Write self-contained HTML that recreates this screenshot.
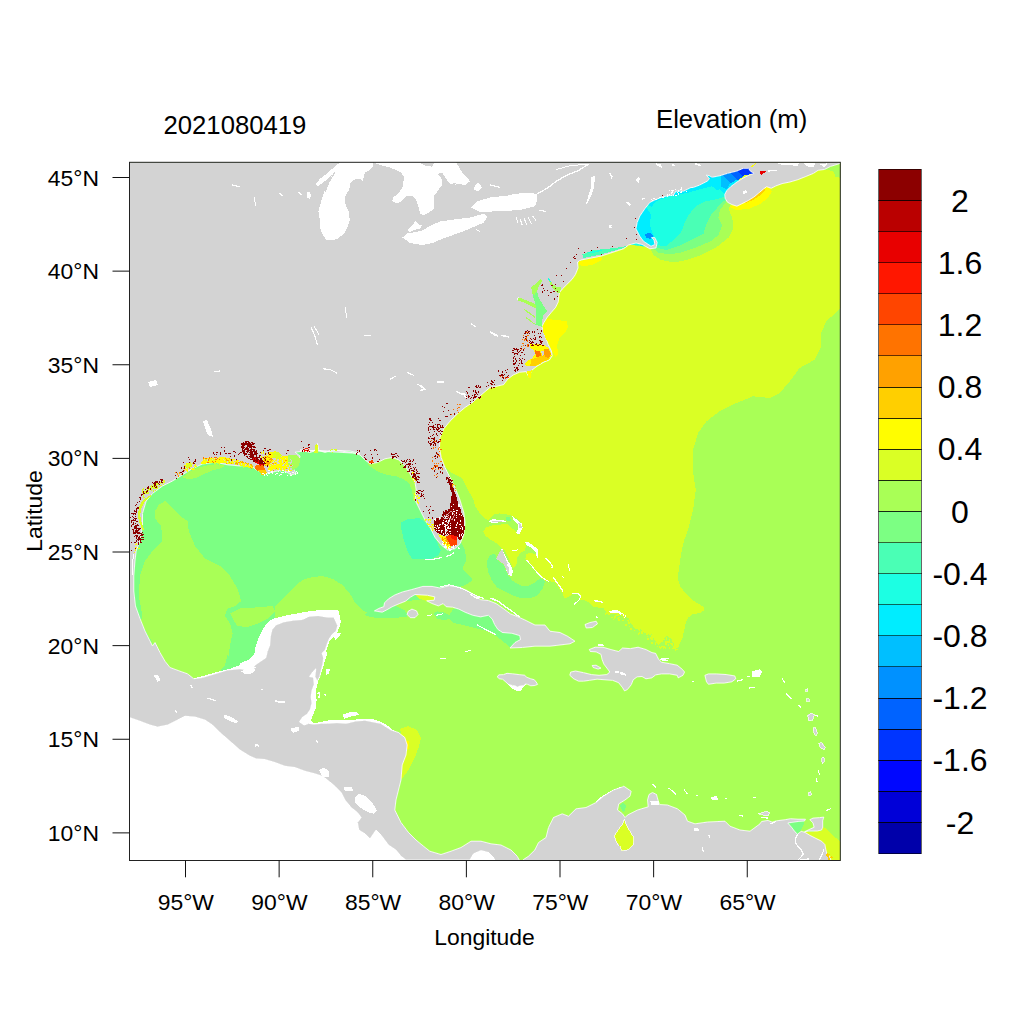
<!DOCTYPE html>
<html><head><meta charset="utf-8"><title>Elevation</title>
<style>html,body{margin:0;padding:0;background:#fff}svg{display:block}text{font-family:"Liberation Sans",sans-serif;fill:#000}</style></head><body>
<svg width="1024" height="1024" viewBox="0 0 1024 1024">
<rect width="1024" height="1024" fill="#fff"/>
<defs><clipPath id="c"><rect x="129.5" y="162.3" width="710.8" height="698.2"/></clipPath></defs>
<g clip-path="url(#c)" shape-rendering="crispEdges">
<path d="M120.0,150.0L850.0,150.0L850.0,870.0L120.0,870.0Z" fill="#a9ff56"/>
<path d="M845.0,150.0L845.0,306.0L842.7,306.6L838.7,309.9L826.1,321.6L821.1,333.2L821.1,346.5L814.4,359.8L799.5,368.1L791.2,379.7L779.6,393.0L769.6,398.0L753.0,396.3L736.4,403.0L719.7,411.3L706.5,421.3L698.1,432.9L693.2,449.5L692.5,469.4L695.8,489.4L693.2,509.3L688.2,529.2L684.3,540.0L681.6,550.9L679.6,564.6L677.5,578.3L680.2,586.5L685.7,593.3L692.5,600.2L699.4,604.3L704.2,607.7L704.6,610.4L699.4,613.1L692.5,614.5L687.8,617.9L685.7,623.4L684.3,630.2L682.3,638.4L679.6,643.9L677.5,648.0L672.0,649.4L674.8,642.5L670.7,638.4L666.6,635.7L663.8,638.4L658.4,645.3L654.3,639.8L651.5,634.3L644.7,633.0L640.6,628.9L635.1,628.9L631.0,623.4L628.3,617.9L622.8,616.6L617.3,613.8L607.8,614.5L603.7,608.4L601.3,608.0L593.1,606.6L588.9,602.5L583.5,599.8L579.4,600.5L580.7,595.7L578.0,593.7L572.5,593.0L571.2,595.7L564.3,598.4L563.0,594.3L558.9,587.5L554.8,582.0L550.7,581.4L545.2,580.7L539.7,576.6L534.3,569.7L528.8,562.9L525.4,558.8L526.1,554.7L530.2,552.6L534.9,554.0L537.0,554.7L537.0,550.6L531.5,547.9L526.1,545.1L524.7,542.4L519.2,536.2L518.5,534.9L522.6,527.3L521.3,522.6L515.8,517.8L509.6,514.8L499.4,513.4L493.2,514.8L487.8,520.5L480.9,515.0L475.5,506.8L473.4,500.0L462.0,478.0L456.0,475.0L450.0,472.0L432.0,450.0L430.0,425.0L450.0,395.0L470.0,385.0L500.0,365.0L525.0,345.0L535.0,300.0L560.0,270.0L570.0,240.0L600.0,235.0L630.0,225.0L640.0,200.0L680.0,180.0L720.0,160.0L760.0,150.0Z" fill="#daff25"/>
<path d="M483.0,531.4L486.4,527.3L493.2,525.3L506.9,523.9L511.0,527.3L516.5,532.1L519.2,536.2L524.7,542.4L526.1,546.5L524.7,550.6L520.6,552.6L517.2,557.4L516.5,564.3L513.8,568.4L511.0,564.3L508.3,557.4L504.9,550.6L501.4,547.9L497.3,543.8L490.5,539.6L485.0,535.5Z" fill="#daff25"/>
<path d="M505.8,517.1L510.3,517.5L510.7,520.5L506.6,520.5Z" fill="#7cff83"/>
<path d="M840.8,160.9L840.8,177.8L835.3,176.6L833.8,171.9L827.5,169.5L822.8,170.0L830.6,165.6Z" fill="#a9ff56"/>
<path d="M649.8,247.5L653.5,255.0L661.0,260.0L673.5,262.5L686.0,260.0L701.0,255.0L716.0,247.5L728.5,237.5L733.5,227.5L732.2,217.5L728.5,208.8L731.0,203.8L728.5,195.0L716.0,172.5L686.0,180.0L656.0,190.0L636.0,205.0L628.5,225.0L631.0,245.0Z" fill="#a9ff56"/>
<path d="M652.2,248.0L658.5,252.5L668.5,254.5L681.0,252.5L696.0,247.5L711.0,241.2L718.5,235.0L722.2,225.0L718.5,217.5L719.8,210.0L724.8,203.8L727.2,200.0L728.5,195.0L716.0,172.5L686.0,180.0L656.0,190.0L636.0,205.0L628.5,225.0L631.0,245.0Z" fill="#7cff83"/>
<path d="M654.8,247.0L666.0,250.0L678.5,246.2L691.0,240.0L703.5,233.8L706.0,225.0L711.0,215.0L718.5,206.2L723.5,201.2L727.2,198.8L728.5,195.0L716.0,172.5L686.0,180.0L656.0,190.0L636.0,205.0L628.5,225.0L631.0,245.0Z" fill="#4affb5"/>
<path d="M656.0,245.0L666.0,246.2L673.5,240.0L681.0,232.5L684.8,222.5L688.5,215.0L696.0,206.2L706.0,201.2L718.5,198.8L726.0,196.2L728.5,195.0L716.0,172.5L686.0,180.0L656.0,190.0L636.0,205.0L628.5,225.0L631.0,245.0Z" fill="#1cffe3"/>
<path d="M646.0,206.2L651.0,215.0L649.8,225.0L652.2,232.5L656.0,240.0L657.2,246.2L641.0,246.2L631.0,232.5L633.5,212.5L641.0,202.5Z" fill="#00edff"/>
<path d="M644.8,233.8L651.0,233.0L653.5,236.2L651.0,238.8L646.0,238.0Z" fill="#0091ff"/>
<path d="M704.1,171.9L730.6,171.9L740.0,181.2L727.5,198.4L723.6,193.0L711.9,181.2Z" fill="#00edff"/>
<path d="M706.0,175.0L721.0,175.0L728.5,187.5L716.0,190.0L708.5,182.5Z" fill="#00edff"/>
<path d="M710.3,176.6L721.2,173.4L732.2,179.7L726.7,189.1L715.0,183.6Z" fill="#00bfff"/>
<path d="M720.5,173.4L729.8,171.1L740.0,177.3L730.9,183.6Z" fill="#0091ff"/>
<path d="M729.1,171.6L736.9,169.1L744.7,175.0L737.7,180.5Z" fill="#0063ff"/>
<path d="M736.1,169.5L743.9,166.9L750.2,168.4L754.1,173.4L748.6,174.7L742.3,175.8Z" fill="#0035ff"/>
<path d="M729.8,207.0L736.9,210.2L749.4,208.6L760.3,203.9L768.1,197.7L772.0,191.4L769.7,187.5L765.0,186.7L736.9,201.6Z" fill="#fffd00"/>
<path d="M743.1,203.9L752.5,200.3L761.1,194.5L765.8,189.1L763.4,188.6L750.2,198.1Z" fill="#ffcf00"/>
<path d="M120.0,440.0L430.0,440.0L436.0,480.0L445.0,535.0L460.0,540.0L465.0,550.0L466.2,560.0L462.5,568.8L470.0,576.2L472.5,580.0L467.5,583.8L460.0,587.0L440.0,597.0L400.0,602.0L385.0,607.0L376.0,611.0L372.5,616.2L362.5,610.0L355.0,602.5L350.0,593.8L342.5,585.0L332.5,578.8L322.5,576.2L310.0,577.0L300.0,578.8L317.5,575.5L302.5,579.8L290.0,591.0L275.0,606.0L275.0,625.0L262.0,650.0L250.0,668.0L222.0,674.0L200.0,682.0L170.0,672.0L150.0,640.0L130.0,600.0L120.0,560.0Z" fill="#7cff83"/>
<path d="M155.0,511.0L158.8,504.8L165.0,501.0L172.5,508.5L180.0,516.0L187.5,521.0L188.8,531.0L195.0,546.0L205.0,558.5L220.0,566.0L230.0,576.0L237.5,588.5L241.2,601.0L235.0,606.0L227.5,608.5L225.0,616.0L230.0,623.5L232.5,633.5L230.0,646.0L227.5,662.0L227.5,655.0L225.0,665.0L220.0,671.2L202.5,683.8L180.0,678.8L165.0,668.8L155.0,647.5L142.5,625.0L137.5,631.0L142.5,616.0L138.8,596.0L140.0,576.0L145.0,561.0L152.5,551.0L162.5,541.0L161.2,526.0L155.0,518.5Z" fill="#a9ff56"/>
<path d="M230.0,613.5L240.0,608.5L260.0,607.2L272.5,606.0L275.0,611.0L267.5,618.5L257.5,623.5L247.5,627.2L237.5,626.0L232.5,618.5Z" fill="#a9ff56"/>
<path d="M367.3,464.0L372.4,468.1L378.7,471.9L387.6,475.1L396.5,476.3L404.1,479.5L409.2,483.3L411.7,489.7L413.0,496.0L413.4,501.1L415.5,497.0L420.0,495.0L417.5,480.0L410.0,470.0L400.0,457.5L385.0,455.0L375.0,456.2Z" fill="#a9ff56"/>
<path d="M401.3,522.5L407.6,519.3L419.0,518.0L425.4,522.5L431.7,531.4L436.8,541.5L440.6,550.4L438.1,555.5L430.5,559.3L412.7,559.3L407.6,551.7L403.8,540.3L401.3,528.8Z" fill="#4affb5"/>
<path d="M365.0,613.8L374.4,609.8L382.2,610.9L388.4,608.3L392.3,605.9L397.8,606.7L404.1,609.8L407.2,614.5L406.4,616.9L396.2,617.7L380.6,618.4L369.7,616.9L365.0,615.3Z" fill="#7cff83"/>
<path d="M433.8,613.8L436.9,611.4L443.1,612.2L449.4,615.3L452.5,609.8L457.2,607.5L465.0,610.9L472.8,614.1L480.6,615.6L488.4,614.1L493.1,616.9L496.2,623.9L499.4,628.6L503.3,631.2L511.9,632.0L521.2,634.8L522.0,639.8L515.0,643.8L509.5,647.3L505.6,643.4L497.8,637.2L490.0,631.7L480.6,629.4L471.2,627.0L461.9,624.7L454.1,623.1L449.4,619.2L443.1,620.0L436.9,618.4Z" fill="#7cff83"/>
<path d="M413.4,593.4L427.5,594.2L435.3,596.2L434.7,600.6L425.9,600.9L419.7,598.8Z" fill="#daff25"/>
<path d="M487.1,560.2L490.5,554.7L495.3,554.0L497.3,560.2L503.5,564.9L506.2,571.1L508.3,575.9L512.4,580.7L520.6,585.5L528.8,585.5L535.6,582.0L540.4,577.9L545.2,581.4L542.5,588.9L537.0,595.7L530.2,598.4L522.0,598.4L513.8,595.7L505.5,591.6L497.3,587.5L491.9,580.7L488.5,572.5L487.1,565.6Z" fill="#7cff83"/>
<path d="M399.8,728.8L408.5,726.2L417.2,730.0L421.0,737.5L418.5,747.5L414.8,757.5L408.5,770.0L401.0,780.0L398.5,780.0L398.5,765.0L403.5,755.0L404.8,745.0L402.2,737.5Z" fill="#daff25"/>
<path d="M406.0,741.2L408.8,741.2L408.8,748.8L406.5,748.8Z" fill="#fffd00"/>
<path d="M805.0,832.4L813.0,831.6L822.2,830.5L823.3,826.7L828.1,830.5L833.5,835.9L841.5,842.8L841.5,862.7L831.3,862.7L830.2,856.8L827.0,854.1L825.9,849.8L824.9,844.5L821.6,841.2L815.2,838.0L809.8,835.3Z" fill="#daff25"/>
<path d="M787.3,822.8L798.0,821.5L804.1,821.1L803.6,825.1L800.9,830.5L797.5,834.6L794.6,831.8L791.3,827.5Z" fill="#7cff83"/>
<path d="M646.9,204.5L652.7,200.4L658.6,198.7L665.6,195.2L670.3,192.8L675.0,188.7L682.0,188.1L687.9,185.8L693.8,186.4L699.6,184.0L705.5,181.1L711.3,178.2L720.7,174.1L720.7,188.1L711.3,186.4L699.6,189.3L687.9,192.8L676.2,195.2L665.6,197.5L656.3,201.0L651.6,206.9Z" fill="#00edff"/>
<path d="M642.8,241.4L656.3,242.0L657.4,245.6L652.7,247.9L646.9,247.0L642.2,244.4Z" fill="#00edff"/>
<path d="M519.8,861.0L494.8,861.0L494.8,860.0L493.5,857.5L488.5,852.5L481.0,850.5L473.5,853.8L469.8,860.0L406.0,860.0L401.0,856.2L396.0,850.0L388.5,845.0L381.0,835.0L376.0,830.0L370.0,838.8L365.0,833.8L358.8,830.0L357.5,822.5L361.2,817.5L357.5,812.5L351.2,807.5L345.0,800.0L341.2,792.5L335.0,786.2L327.5,780.0L322.5,776.2L315.0,773.8L305.0,771.2L295.0,767.5L285.0,766.2L275.0,762.5L265.0,759.5L256.2,758.8L250.0,756.2L240.0,750.0L230.0,741.2L220.0,732.5L212.5,725.0L205.0,720.0L195.0,717.0L185.0,716.2L177.5,720.0L167.5,725.0L157.5,727.0L150.0,725.0L140.0,721.2L129.5,717.5L120.0,716.2L120.0,870.0L521.0,870.0Z" fill="#ffffff"/>
<path d="M192.5,678.8L202.5,676.2L220.0,671.2L230.0,668.8L240.0,665.0L240.0,663.3L247.8,660.2L254.1,654.7L255.6,646.9L258.0,639.1L261.9,631.2L266.6,623.4L272.8,618.8L282.2,616.4L293.1,614.1L302.5,612.5L313.4,610.6L325.9,610.2L338.4,610.2L340.0,617.2L340.8,621.9L339.2,628.1L336.9,632.8L340.8,632.8L339.2,636.7L335.3,639.8L333.8,636.2L329.8,640.6L327.5,646.9L325.9,651.6L327.5,653.9L325.2,659.4L323.6,665.6L321.2,673.4L318.1,681.2L316.6,687.5L315.8,693.8L316.6,700.0L315.8,707.8L313.4,714.1L311.1,720.3L313.4,723.4L321.2,721.9L329.1,720.3L336.9,720.3L344.7,719.5L355.6,719.5L365.0,718.8L374.4,719.5L380.6,721.9L386.9,725.0L392.3,729.7L396.2,732.0L400.0,733.6L400.0,740.6L294.7,740.6L294.7,678.1L240.0,678.1L220.0,685.0L192.5,682.5Z" fill="#ffffff"/>
<path d="M342.3,714.8L349.4,712.5L356.4,711.7L359.5,714.8L349.4,716.9L344.7,718.8Z" fill="#ffffff"/>
<path d="M325.9,669.5L329.8,668.8L329.1,673.4L326.2,674.7Z" fill="#ffffff"/>
<path d="M317.7,693.8L319.7,692.2L318.9,697.7" fill="none" stroke="#ffffff" stroke-width="1.2"/>
<path d="M324.4,693.8L325.9,695.6" fill="none" stroke="#ffffff" stroke-width="1"/>
<path d="M590.0,807.3L594.7,803.4L600.5,797.2L611.1,790.9L619.3,787.3L624.0,786.2L625.2,788.8L613.4,793.4L601.7,801.6L590.0,811.0Z" fill="#ffffff"/>
<path d="M120.0,150.0L850.0,150.0L840.8,162.5L839.2,163.8L830.6,166.4L824.4,169.5L818.1,170.3L813.4,173.4L805.6,176.6L797.8,179.7L790.0,182.0L782.2,183.6L775.9,185.9L771.2,188.3L766.6,186.7L763.4,189.1L758.8,193.0L754.1,196.9L747.8,200.8L741.6,203.9L736.9,206.2L732.2,204.7L727.5,202.3L725.2,198.4L724.7,194.5L726.7,190.6L730.6,186.7L736.9,182.0L743.1,178.1L749.4,175.0L754.1,173.4L750.2,171.1L748.6,168.4L743.1,168.4L736.9,171.1L727.5,173.4L719.7,175.8L711.9,177.3L709.5,175.8L706.4,175.0L709.5,178.9L707.2,181.2L699.4,185.2L693.1,187.5L691.0,187.5L683.5,191.2L676.0,191.2L673.5,195.0L666.0,196.2L661.0,197.5L654.8,200.0L649.8,202.5L644.8,208.8L639.8,216.2L637.2,222.5L636.0,228.8L639.8,236.2L643.5,241.2L651.0,246.2L654.8,244.5L654.0,240.0L651.5,237.5L654.8,237.5L657.2,242.5L656.0,248.0L649.8,248.8L642.2,244.5L636.0,243.0L628.5,245.0L626.0,247.0L623.5,248.8L601.0,256.2L581.0,260.0L577.2,262.5L577.5,262.3L578.1,267.8L575.4,274.6L572.0,279.4L566.5,284.8L562.4,288.9L559.7,292.4L559.0,295.1L558.3,301.9L555.6,307.4L551.5,312.2L547.4,317.0L544.0,322.4L541.9,326.5L544.7,334.7L548.1,344.3L551.5,351.1L552.2,355.9L549.4,360.0L544.0,362.1L537.1,366.2L531.7,370.3L528.9,377.1L526.2,371.6L519.4,372.3L513.2,375.0L507.8,379.1L503.7,384.6L495.5,386.6L490.0,387.5L482.5,393.8L475.0,400.0L472.5,402.5L465.0,407.5L457.5,413.8L450.0,421.2L443.8,428.8L440.0,437.5L439.5,447.5L441.2,457.5L445.0,467.5L450.0,477.5L455.0,487.5L460.0,500.0L463.8,512.5L465.0,522.5L463.8,535.0L460.0,543.8L455.0,548.8L447.5,550.0L441.2,545.0L435.0,537.5L430.0,527.5L425.0,520.0L420.0,510.0L415.0,500.0L416.2,490.0L415.0,482.5L410.0,473.8L405.0,466.2L398.8,460.0L392.5,457.5L385.0,458.8L377.5,462.5L370.0,463.8L365.0,460.0L360.0,455.0L352.5,452.5L342.5,451.2L332.5,450.0L325.0,452.5L317.5,450.0L310.0,452.5L300.0,450.0L360.0,453.5L350.0,451.0L337.5,450.5L327.5,451.0L318.8,450.5L317.5,443.5L315.0,450.5L305.0,451.0L295.0,452.2L300.0,456.0L298.8,462.2L292.5,467.2L296.2,473.5L291.2,474.8L282.5,469.8L272.5,472.2L263.8,473.5L256.2,469.8L250.0,464.8L240.0,466.0L227.5,464.8L215.0,462.2L202.5,464.0L192.5,468.5L182.5,474.8L172.5,481.0L162.5,486.0L152.5,493.5L146.2,501.0L142.5,513.5L142.5,526.0L140.0,541.0L136.2,551.0L135.0,561.0L133.8,576.0L133.8,591.0L135.5,606.0L140.0,618.5L145.0,631.0L152.5,646.0L155.0,642.5L160.0,652.5L165.0,661.2L170.0,667.5L180.0,671.2L187.5,673.8L193.8,678.8L202.5,677.5L215.0,673.8L227.5,670.0L240.0,668.8L246.2,670.0L252.5,668.8L255.6,667.5L253.3,666.4L258.8,662.5L265.8,657.8L267.3,651.6L269.7,645.3L270.5,635.9L272.0,629.7L275.9,625.0L283.8,621.9L293.1,620.3L302.5,619.5L308.8,616.4L318.1,615.6L327.5,617.2L333.8,617.2L335.3,620.3L337.7,625.8L336.1,631.2L332.2,634.4L329.1,639.1L326.7,645.3L325.2,650.0L322.0,653.1L323.6,657.8L322.8,664.1L321.2,670.3L319.7,676.6L317.3,681.2L315.0,676.6L315.8,668.8L312.7,671.9L309.5,676.6L313.4,677.3L314.2,684.4L311.9,690.6L311.1,696.9L311.9,703.1L310.3,709.4L307.2,714.1L302.5,717.2L299.4,721.9L304.1,725.0L308.8,723.4L313.4,724.2L321.2,723.4L327.5,723.4L336.9,722.7L346.2,723.4L355.6,721.1L365.0,720.3L372.8,721.9L380.6,723.4L391.0,730.0L398.5,732.5L404.8,737.5L407.2,745.0L406.0,755.0L402.2,765.0L401.0,780.0L398.5,790.0L396.0,800.0L394.8,810.0L401.0,822.5L408.5,832.5L416.0,840.0L423.5,846.2L429.8,851.2L441.0,854.5L451.0,851.2L461.0,847.5L471.0,841.2L481.0,841.2L491.0,843.8L501.0,845.0L511.0,850.0L517.2,856.2L519.8,861.0L494.8,861.0L494.8,860.0L493.5,857.5L488.5,852.5L481.0,850.5L473.5,853.8L469.8,860.0L406.0,860.0L401.0,856.2L396.0,850.0L388.5,845.0L381.0,835.0L376.0,830.0L370.0,838.8L365.0,833.8L358.8,830.0L357.5,822.5L361.2,817.5L357.5,812.5L351.2,807.5L345.0,800.0L341.2,792.5L335.0,786.2L327.5,780.0L322.5,776.2L315.0,773.8L305.0,771.2L295.0,767.5L285.0,766.2L275.0,762.5L265.0,759.5L256.2,758.8L250.0,756.2L240.0,750.0L230.0,741.2L220.0,732.5L212.5,725.0L205.0,720.0L195.0,717.0L185.0,716.2L177.5,720.0L167.5,725.0L157.5,727.0L150.0,725.0L140.0,721.2L129.5,717.5L120.0,716.2L120.0,716.0Z" fill="#d3d3d3" stroke="#fff" stroke-width="0.8" stroke-linejoin="round"/>
<path d="M522.2,861.0L523.5,859.5L528.5,856.2L534.8,850.0L538.5,842.5L546.0,837.5L548.5,827.5L553.5,817.5L562.2,813.8L568.5,816.2L576.0,808.8L586.0,807.5L596.0,802.5L603.5,796.2L613.5,790.0L622.2,787.0L623.8,786.2L631.2,791.2L630.0,796.2L625.0,800.0L618.8,803.8L617.5,810.0L622.5,813.8L625.0,817.5L627.5,815.0L637.5,810.0L648.2,806.8L647.5,800.0L649.0,794.5L652.5,792.5L656.5,794.5L658.0,800.0L659.5,804.5L667.5,805.0L677.5,808.8L685.0,815.0L687.5,821.2L695.0,823.8L707.5,822.0L725.0,821.2L730.0,826.2L740.0,830.0L750.0,831.2L755.0,827.5L760.0,823.8L761.5,821.5L767.9,820.4L772.2,822.1L776.5,820.8L785.1,819.7L790.5,818.7L798.0,819.2L805.5,819.2L804.5,821.0L798.0,821.5L787.8,823.0L791.6,827.3L794.8,831.6L797.5,834.2L801.2,831.3L805.0,832.4L809.8,835.3L815.2,838.0L821.6,841.2L824.9,844.5L825.9,849.8L827.0,854.1L830.2,856.8L831.3,862.7Z" fill="#d3d3d3" stroke="#fff" stroke-width="0.8" stroke-linejoin="round"/>
<path d="M809.8,819.7L813.0,818.1L819.5,817.6L823.8,817.1L822.7,820.8L822.7,827.3L821.6,830.0L817.3,831.0L813.0,831.0L808.8,831.0L804.5,831.8L809.8,829.2L814.1,827.3L813.0,823.0Z" fill="#d3d3d3" stroke="#fff" stroke-width="0.8" stroke-linejoin="round"/>
<path d="M374.4,610.9L379.1,608.3L383.8,606.7L384.5,602.8L388.4,598.9L394.7,595.0L402.5,591.9L411.9,589.5L422.8,586.4L432.2,586.4L440.0,588.0L449.4,585.6L458.8,587.2L466.6,590.3L474.4,595.0L480.6,599.7L488.4,600.5L496.2,603.6L504.1,609.1L510.3,613.8L518.1,616.9L525.0,620.0L535.0,625.0L545.0,625.0L550.0,631.2L560.0,632.5L567.5,636.2L575.0,641.2L570.0,643.8L560.0,645.0L550.0,646.2L535.0,646.2L522.5,647.5L510.0,648.0L515.0,642.5L520.5,639.5L519.7,635.6L511.9,633.3L502.5,632.5L497.8,629.4L494.7,624.7L492.3,619.2L488.4,615.3L480.6,616.9L472.8,615.3L465.0,612.2L458.8,609.1L452.5,607.2L446.2,606.7L443.1,603.6L438.4,605.9L432.2,603.6L426.7,600.8L434.1,600.2L434.8,596.9L427.5,595.3L415.0,594.5L410.3,597.3L405.6,601.2L399.4,603.6L392.3,606.7L386.9,609.8L382.2,612.2Z" fill="#d3d3d3" stroke="#fff" stroke-width="0.8" stroke-linejoin="round"/>
<path d="M408.0,611.4L411.9,609.1L416.6,610.9L418.1,614.5L415.0,617.7L410.3,617.7L407.2,614.5Z" fill="#d3d3d3" stroke="#fff" stroke-width="0.8" stroke-linejoin="round"/>
<path d="M589.3,649.5L595.2,647.2L603.0,647.2L610.8,649.5L618.6,651.5L622.5,648.0L630.3,648.6L638.1,647.2L645.9,649.5L651.8,652.5L655.7,653.4L658.6,659.3L661.6,662.2L669.4,663.6L677.2,665.2L682.1,669.1L684.6,672.0L683.0,675.3L678.2,677.9L677.2,675.3L669.4,673.9L661.6,673.9L655.7,674.9L651.8,677.9L645.9,678.8L642.0,676.5L637.1,676.9L633.2,679.8L631.3,684.7L627.4,689.6L624.5,690.9L622.5,687.6L618.6,682.7L612.7,680.4L604.9,679.8L597.1,679.2L589.3,680.4L583.4,681.2L578.6,681.2L573.7,678.8L569.8,675.3L570.7,672.0L575.6,671.0L583.4,672.6L591.2,674.5L599.1,675.3L606.9,674.5L609.8,672.0L606.9,668.1L603.9,664.2L602.0,659.3L601.0,654.4L596.1,651.9L590.3,651.5Z" fill="#d3d3d3" stroke="#fff" stroke-width="0.8" stroke-linejoin="round"/>
<path d="M592.2,665.5L596.1,665.2L601.0,668.1L598.1,669.1L593.2,667.5Z" fill="#d3d3d3" stroke="#fff" stroke-width="0.8" stroke-linejoin="round"/>
<path d="M614.7,670.6L618.6,670.6L619.0,673.4L615.5,673.4Z" fill="#ffffff"/>
<path d="M619.6,672.0L623.5,672.6L626.4,674.5L625.4,675.7L620.9,674.5Z" fill="#ffffff"/>
<path d="M508.1,684.2L511.2,685.3L515.2,686.1L517.5,687.3L519.1,686.5L523.8,685.7L526.1,684.0L520.6,690.8L516.3,690.9L512.8,688.8Z" fill="#ffffff"/>
<path d="M497.2,677.0L498.8,674.8L503.4,674.6L507.0,673.3L512.8,673.8L519.1,674.6L524.5,675.2L526.9,677.3L530.8,678.8L534.3,679.7L536.2,682.0L537.7,684.4L534.7,685.5L530.8,685.8L527.7,684.4L525.7,684.0L523.8,685.5L519.1,686.3L517.5,687.1L515.2,685.9L511.2,685.2L508.5,684.4L505.8,682.0L502.7,679.3L499.5,678.8Z" fill="#d3d3d3" stroke="#fff" stroke-width="0.8" stroke-linejoin="round"/>
<path d="M704.9,675.3L708.4,673.9L716.2,673.9L726.0,674.5L734.8,675.9L735.8,678.8L731.9,681.8L724.1,683.1L716.2,683.1L708.4,684.3L706.5,681.8L705.5,677.9Z" fill="#d3d3d3" stroke="#fff" stroke-width="0.8" stroke-linejoin="round"/>
<path d="M585.0,624.5L590.0,622.5L596.2,621.2L597.5,623.8L592.5,627.5L586.2,628.0Z" fill="#d3d3d3" stroke="#fff" stroke-width="0.8" stroke-linejoin="round"/>
<path d="M315.6,184.7L319.5,179.2L325.8,174.5L332.8,168.3L340.6,162.0L373.4,162.0L372.7,166.7L368.8,170.6L364.8,172.2L364.1,176.9L362.5,180.8L360.2,178.4L353.1,180.0L350.0,183.9L349.2,190.2L346.1,194.1L344.5,200.3L346.1,206.6L349.2,212.8L349.7,220.6L347.7,226.9L343.8,233.9L337.5,238.6L331.2,240.6L325.8,239.4L322.7,234.7L320.3,228.4L320.0,220.6L318.4,211.2L321.1,201.9L323.4,194.1L325.8,187.8L328.9,180.8L332.0,175.0L328.1,178.4L323.4,182.3L318.0,186.2Z" fill="#ffffff"/>
<path d="M325.0,191.7L328.9,182.3L334.7,172.5" fill="none" stroke="#d3d3d3" stroke-width="1.2"/>
<path d="M307.0,192.5L309.7,192.2L310.9,195.6L309.4,199.1L307.5,197.5Z" fill="#ffffff"/>
<path d="M373.4,162.0L381.2,165.9L387.5,166.7L393.8,169.1L401.6,173.0L403.9,176.9L403.1,186.2L400.0,190.9L396.9,194.8L393.0,197.2L392.2,201.1L396.9,203.4L401.6,201.1L406.2,196.4L411.7,195.6L415.6,198.8L418.0,205.0L420.3,213.6L423.4,215.2L429.7,212.0L433.6,208.9L434.4,195.6L438.3,190.2L442.2,184.7L441.4,178.4L437.5,173.8L442.2,173.0L446.9,180.0L450.8,183.9L456.2,184.7L450.0,182.5L465.0,185.0L470.0,181.2L462.5,172.5L455.0,161.2Z" fill="#ffffff"/>
<path d="M420.3,163.1L434.4,163.1L432.0,166.7L425.0,165.6Z" fill="#d3d3d3"/>
<path d="M373.4,164.4L378.1,164.1L387.5,167.5L384.4,170.6L378.1,169.8L375.0,167.5Z" fill="#d3d3d3"/>
<path d="M415.6,220.6L418.8,224.5L421.9,225.3L420.3,228.4L414.1,230.0L409.4,232.3L407.8,230.0L411.7,226.1Z" fill="#ffffff"/>
<path d="M402.5,237.5L407.8,233.0L415.5,232.2L423.5,230.0L431.2,225.2L440.5,221.5L450.0,220.0L470.0,217.5L483.8,213.8L487.5,216.2L483.8,222.5L472.5,227.5L460.0,232.5L442.5,238.8L432.5,243.0L422.5,245.0L410.0,243.0Z" fill="#ffffff"/>
<path d="M471.2,207.5L477.5,201.2L490.0,197.5L507.5,195.5L525.0,192.5L536.2,193.8L537.5,200.0L535.0,206.2L520.0,210.0L500.0,211.2L480.0,212.0Z" fill="#ffffff"/>
<path d="M536.2,194.5L547.5,188.0L556.0,181.5L566.0,175.5L578.5,170.5L588.5,164.2" fill="none" stroke="#ffffff" stroke-width="1.3"/>
<path d="M556.0,169.5L571.0,165.5L588.5,164.2" fill="none" stroke="#ffffff" stroke-width="1"/>
<path d="M590.5,177.0L595.0,176.0L594.0,187.5L591.0,196.2L585.5,206.2L588.5,195.0L591.0,187.5Z" fill="#ffffff"/>
<path d="M475.0,185.0L478.8,182.5L482.0,187.5L478.0,191.2L473.8,189.5Z" fill="#ffffff"/>
<path d="M516.2,217.5L518.0,223.0" fill="none" stroke="#ffffff" stroke-width="1.2"/>
<path d="M520.0,218.8L522.5,225.5" fill="none" stroke="#ffffff" stroke-width="1.2"/>
<path d="M523.8,217.5L526.8,225.0" fill="none" stroke="#ffffff" stroke-width="1.2"/>
<path d="M528.0,217.0L531.5,223.8" fill="none" stroke="#ffffff" stroke-width="1.2"/>
<path d="M532.5,216.2L536.2,220.5" fill="none" stroke="#ffffff" stroke-width="1.2"/>
<path d="M538.8,210.0L546.2,211.5" fill="none" stroke="#ffffff" stroke-width="1.2"/>
<path d="M311.2,327.5L315.0,336.2L317.5,345.5" fill="none" stroke="#ffffff" stroke-width="1.2"/>
<path d="M314.2,326.5L319.0,334.5" fill="none" stroke="#ffffff" stroke-width="1.2"/>
<path d="M322.5,368.8L330.0,369.5L336.8,373.0" fill="none" stroke="#ffffff" stroke-width="1.2"/>
<path d="M390.0,379.5L395.5,376.0" fill="none" stroke="#ffffff" stroke-width="1.2"/>
<path d="M407.5,372.5L414.2,375.5" fill="none" stroke="#ffffff" stroke-width="1.2"/>
<path d="M417.5,383.8L425.0,389.5L420.0,390.5" fill="none" stroke="#ffffff" stroke-width="1.2"/>
<path d="M437.5,382.0L443.8,382.8" fill="none" stroke="#ffffff" stroke-width="1.2"/>
<path d="M456.2,391.2L465.5,395.5" fill="none" stroke="#ffffff" stroke-width="1.2"/>
<path d="M471.2,323.8L475.5,326.8" fill="none" stroke="#ffffff" stroke-width="1.2"/>
<path d="M490.0,332.5L498.0,336.5" fill="none" stroke="#ffffff" stroke-width="1.2"/>
<path d="M501.2,335.5L509.5,337.2" fill="none" stroke="#ffffff" stroke-width="1.2"/>
<path d="M364.5,335.0L370.5,336.0" fill="none" stroke="#ffffff" stroke-width="1.2"/>
<path d="M490.0,185.0L500.0,187.5" fill="none" stroke="#ffffff" stroke-width="1.2"/>
<path d="M512.0,195.0L520.0,194.0" fill="none" stroke="#ffffff" stroke-width="1.2"/>
<path d="M476.2,229.5L480.0,231.5" fill="none" stroke="#ffffff" stroke-width="1.2"/>
<path d="M490.0,332.0L498.2,336.1" fill="none" stroke="#ffffff" stroke-width="1.5"/>
<path d="M500.9,335.4L509.4,336.9" fill="none" stroke="#ffffff" stroke-width="1.5"/>
<path d="M609.8,225.0L611.5,228.0" fill="none" stroke="#ffffff" stroke-width="1.5"/>
<path d="M626.8,202.0L630.5,205.5" fill="none" stroke="#ffffff" stroke-width="1.5"/>
<path d="M636.0,179.5L639.0,182.0" fill="none" stroke="#ffffff" stroke-width="1.5"/>
<path d="M609.8,173.0L612.2,177.5" fill="none" stroke="#ffffff" stroke-width="1.5"/>
<path d="M548.8,278.7L552.9,284.2L557.0,286.9L561.3,286.6L560.0,292.6L557.0,293.0L553.5,288.9L550.1,284.2Z" fill="#a9ff56"/>
<path d="M548.1,278.0L550.8,282.1" fill="none" stroke="#1cffe3" stroke-width="1"/>
<path d="M541.9,326.8L535.4,324.5L536.5,315.6L535.8,307.4L534.4,300.6L532.4,293.7L531.0,286.9L535.1,284.2L540.6,279.4L542.6,280.7L539.2,285.5L537.1,291.0L538.5,296.5L541.2,301.9L544.7,307.4L547.4,311.5L543.3,315.6L541.9,321.1Z" fill="#7cff83"/>
<path d="M531.0,286.9L535.1,284.2L540.6,279.4L542.6,280.7L539.2,285.5L537.1,291.0L534.4,295.1L532.4,293.7Z" fill="#a9ff56"/>
<path d="M535.8,308.1L529.6,305.3L522.8,301.9L517.3,300.3L518.4,297.1L524.2,299.5L531.0,302.2L535.8,304.7Z" fill="#a9ff56"/>
<path d="M524.2,309.4L535.1,317.2" fill="none" stroke="#a9ff56" stroke-width="1.2"/>
<path d="M525.8,317.2L534.5,324.1" fill="none" stroke="#a9ff56" stroke-width="1.2"/>
<path d="M517.3,300.3L518.4,297.1" fill="none" stroke="#ffffff" stroke-width="0.8"/>
<path d="M529.6,344.3L536.5,344.0L544.7,345.4L548.8,348.4L551.8,355.2L549.0,359.6L543.6,361.8L536.7,365.9L529.6,366.4L524.2,365.1L526.9,361.0L532.4,358.2L535.1,354.1L533.7,350.0L529.6,347.3Z" fill="#fffd00"/>
<path d="M531.0,359.3L536.5,358.0L544.7,353.9L550.1,355.2L548.8,359.3L543.3,361.4L536.5,365.5L530.3,365.9Z" fill="#ffcf00"/>
<path d="M535.1,350.4L540.3,350.8L540.8,356.3L535.8,356.9Z" fill="#ff7300"/>
<path d="M544.0,349.5L548.1,348.7L550.8,353.9L548.8,358.2L544.7,356.6Z" fill="#ffa100"/>
<path d="M541.2,351.4L543.6,350.8L544.4,355.2L541.9,355.9Z" fill="#d3d3d3"/>
<path d="M542.6,326.3L547.4,319.0L554.2,319.7L566.5,321.1L567.9,326.5L565.8,332.0L559.7,337.5L557.0,345.7L558.3,353.9L555.6,356.9L552.2,351.1L550.1,345.7L546.0,338.8L543.3,332.0Z" fill="#fffd00"/>
<path d="M526.2,371.6L531.7,370.3L530.7,377.8L528.9,377.4Z" fill="#fffd00"/>
<path d="M582.2,254.5L593.5,250.0L606.0,249.0L618.5,247.5L626.5,246.0L623.5,248.0L601.0,254.5L583.5,258.0Z" fill="#4affb5"/>
<path d="M586.0,253.0L601.0,249.5L606.0,249.5L593.5,253.0Z" fill="#1cffe3"/>
<path d="M579.0,261.2L601.0,257.0L602.2,260.0L593.5,264.5L583.5,266.2L578.5,265.0Z" fill="#fffd00"/>
<path d="M182.7,477.2L188.2,472.4L196.4,468.3L207.3,465.3L216.9,464.2L225.1,465.8L221.0,468.3L212.8,470.3L204.6,473.8L196.4,477.9L188.2,479.5Z" fill="#a9ff56"/>
<path d="M203.9,458.0L225.1,457.3L227.9,463.5L214.2,462.8L206.0,463.5L200.5,464.2Z" fill="#fffd00"/>
<path d="M225.1,457.3L240.2,460.8L253.8,464.9L251.8,468.6L238.8,464.9L226.5,463.5Z" fill="#ffa100"/>
<path d="M240.2,462.1L251.1,465.8L248.4,467.6L238.8,465.3Z" fill="#fffd00"/>
<path d="M262.0,456.7L270.2,456.0L274.3,461.4L273.0,465.8L264.8,465.8Z" fill="#ffa100"/>
<path d="M267.5,452.6L274.3,451.9L275.7,457.3L270.2,458.0Z" fill="#fffd00"/>
<path d="M273.0,459.4L283.9,456.0L293.5,457.3L292.1,471.0L283.9,471.0L275.7,469.6L270.2,471.0L267.5,469.6Z" fill="#fffd00"/>
<path d="M271.6,452.6L278.4,451.6L281.9,455.3L278.4,458.7L273.0,458.0Z" fill="#daff25"/>
<path d="M288.0,455.3L296.2,454.6L300.3,459.4L298.9,465.8L293.5,469.9L289.4,468.3L288.0,462.8Z" fill="#a9ff56"/>
<path d="M255.9,465.3L263.7,465.0L265.0,469.9L257.9,471.3L254.5,468.6Z" fill="#ff7300"/>
<path d="M257.9,470.3L265.5,469.6L267.5,473.8L262.0,475.1Z" fill="#ffcf00"/>
<path d="M251.1,455.7L256.6,457.1L263.7,464.2L260.9,465.8L254.9,462.5Z" fill="#e80000"/>
<path d="M245,441h1v1h-1zM246,441h1v1h-1zM247,441h1v1h-1zM248,441h1v2h-1zM243,442h1v1h-1zM245,442h1v1h-1zM246,442h1v1h-1zM249,442h1v1h-1zM251,442h2v1h-2zM241,443h1v1h-1zM242,443h2v1h-2zM244,443h1v2h-1zM245,443h1v1h-1zM246,443h1v1h-1zM247,443h1v2h-1zM248,443h1v1h-1zM249,443h1v1h-1zM250,443h1v2h-1zM252,443h1v1h-1zM253,443h2v1h-2zM241,444h2v1h-2zM243,444h2v1h-2zM244,444h1v1h-1zM245,444h1v1h-1zM246,444h2v1h-2zM247,444h1v2h-1zM248,444h1v2h-1zM249,444h1v1h-1zM250,444h2v1h-2zM251,444h1v2h-1zM252,444h1v1h-1zM253,444h1v1h-1zM242,445h1v1h-1zM243,445h1v1h-1zM244,445h1v1h-1zM247,445h1v1h-1zM248,445h1v1h-1zM249,445h1v1h-1zM250,445h1v2h-1zM251,445h1v1h-1zM241,446h1v2h-1zM242,446h1v1h-1zM243,446h1v1h-1zM247,446h1v2h-1zM248,446h2v1h-2zM250,446h1v2h-1zM251,446h1v2h-1zM252,446h1v1h-1zM253,446h1v1h-1zM254,446h1v2h-1zM242,447h1v1h-1zM243,447h2v1h-2zM246,447h1v1h-1zM247,447h1v2h-1zM249,447h1v1h-1zM250,447h1v1h-1zM253,447h1v1h-1zM254,447h2v1h-2zM242,448h1v1h-1zM243,448h1v1h-1zM245,448h1v1h-1zM246,448h1v1h-1zM247,448h1v1h-1zM248,448h1v1h-1zM251,448h1v1h-1zM242,449h1v2h-1zM244,449h1v1h-1zM245,449h2v1h-2zM246,449h2v1h-2zM247,449h1v1h-1zM248,449h1v2h-1zM250,449h1v1h-1zM251,449h1v1h-1zM252,449h1v1h-1zM253,449h2v1h-2zM242,450h1v1h-1zM243,450h1v1h-1zM244,450h1v1h-1zM247,450h1v2h-1zM249,450h2v1h-2zM251,450h1v1h-1zM253,450h1v2h-1zM254,450h1v2h-1zM256,450h1v2h-1zM242,451h1v1h-1zM243,451h1v2h-1zM244,451h1v2h-1zM246,451h2v1h-2zM247,451h1v2h-1zM248,451h1v1h-1zM250,451h1v2h-1zM251,451h2v1h-2zM252,451h2v1h-2zM253,451h1v1h-1zM254,451h2v1h-2zM255,451h1v1h-1zM256,451h1v2h-1zM243,452h1v2h-1zM244,452h1v2h-1zM249,452h2v1h-2zM251,452h1v2h-1zM252,452h1v2h-1zM254,452h1v2h-1zM255,452h1v1h-1zM256,452h1v1h-1zM243,453h2v1h-2zM244,453h1v1h-1zM245,453h1v1h-1zM246,453h1v2h-1zM250,453h1v2h-1zM252,453h1v1h-1zM254,453h1v1h-1zM255,453h1v2h-1zM256,453h1v2h-1zM257,453h1v1h-1zM244,454h1v2h-1zM245,454h1v1h-1zM246,454h1v1h-1zM248,454h1v1h-1zM249,454h2v1h-2zM250,454h1v1h-1zM251,454h1v1h-1zM252,454h1v1h-1zM253,454h1v1h-1zM254,454h1v1h-1zM250,455h1v1h-1zM251,455h1v1h-1zM252,455h1v1h-1zM253,455h1v1h-1zM256,455h1v1h-1zM259,455h2v1h-2zM246,456h2v1h-2zM247,456h1v1h-1zM249,456h1v1h-1zM250,456h1v1h-1zM251,456h1v2h-1zM252,456h1v2h-1zM253,456h1v1h-1zM256,456h1v2h-1zM259,456h1v1h-1zM247,457h1v1h-1zM250,457h1v1h-1zM251,457h1v1h-1zM252,457h2v1h-2zM253,457h1v1h-1zM255,457h1v1h-1zM256,457h1v1h-1zM257,457h2v1h-2zM258,457h1v1h-1zM259,457h1v1h-1zM248,458h2v1h-2zM249,458h1v1h-1zM252,458h1v2h-1zM254,458h1v1h-1zM256,458h1v1h-1zM257,458h1v1h-1zM260,458h1v1h-1zM261,458h1v2h-1zM250,459h1v1h-1zM251,459h1v1h-1zM254,459h1v1h-1zM256,459h2v1h-2zM257,459h1v1h-1zM258,459h1v1h-1zM260,459h1v1h-1zM261,459h1v2h-1zM253,460h1v2h-1zM254,460h1v2h-1zM255,460h2v1h-2zM256,460h1v1h-1zM257,460h1v1h-1zM259,460h1v1h-1zM260,460h1v1h-1zM261,460h1v1h-1zM262,460h1v1h-1zM256,461h2v1h-2zM259,461h2v1h-2zM260,461h1v2h-1zM261,461h1v1h-1zM262,461h2v1h-2zM259,462h1v1h-1zM260,462h1v2h-1zM261,462h2v1h-2zM262,462h1v1h-1zM264,462h1v1h-1zM259,463h1v1h-1zM261,463h1v1h-1zM262,463h2v1h-2zM263,463h1v1h-1z" fill="#8c0000"/>
<path d="M285,458h1v1h-1zM272,459h2v1h-2zM273,459h1v1h-1zM274,459h2v1h-2zM275,459h1v1h-1zM277,459h1v2h-1zM278,459h1v1h-1zM280,459h1v1h-1zM290,459h1v1h-1zM268,460h1v2h-1zM269,460h1v1h-1zM272,460h1v1h-1zM274,460h1v1h-1zM278,460h1v1h-1zM282,460h1v2h-1zM291,460h1v1h-1zM269,461h1v1h-1zM271,461h1v1h-1zM273,461h1v1h-1zM275,461h2v1h-2zM277,461h1v2h-1zM291,461h1v1h-1zM272,462h1v1h-1zM273,462h1v1h-1zM278,462h1v2h-1zM282,462h1v1h-1zM285,462h1v1h-1zM288,462h2v1h-2zM290,462h2v1h-2zM270,463h1v1h-1zM271,463h1v1h-1zM277,463h1v1h-1zM278,463h2v1h-2zM284,463h1v1h-1zM290,463h1v1h-1zM272,464h1v1h-1zM274,464h2v1h-2zM275,464h1v1h-1zM283,464h1v1h-1zM268,465h1v1h-1zM270,465h1v1h-1zM272,465h1v1h-1zM282,465h1v1h-1zM283,465h1v1h-1zM286,465h1v1h-1zM289,465h1v1h-1zM292,465h1v1h-1zM289,466h1v1h-1zM290,466h2v1h-2zM291,466h1v1h-1zM287,467h1v1h-1zM288,467h1v1h-1zM276,468h1v2h-1zM279,468h1v1h-1zM282,468h1v2h-1zM288,468h1v2h-1zM290,468h1v2h-1zM291,468h1v2h-1zM273,469h2v1h-2zM279,469h1v1h-1zM285,469h1v2h-1zM286,469h1v1h-1zM287,469h2v1h-2zM290,469h2v1h-2zM291,469h1v1h-1zM280,470h1v2h-1zM288,470h1v1h-1z" fill="#d3d3d3"/>
<path d="M268,470h2v1h-2zM282,470h2v1h-2zM288,470h1v1h-1zM271,471h1v2h-1zM272,471h1v2h-1zM278,471h1v1h-1zM288,471h1v1h-1zM289,471h1v1h-1zM296,471h1v1h-1zM268,472h1v2h-1zM271,472h2v1h-2zM281,472h2v1h-2zM283,472h1v1h-1zM285,472h1v1h-1zM292,472h1v1h-1zM293,472h1v1h-1zM297,472h1v1h-1zM262,473h2v1h-2zM266,473h1v2h-1zM269,473h1v1h-1zM272,473h1v1h-1zM276,473h1v1h-1zM277,473h1v1h-1zM290,473h1v1h-1zM295,473h1v2h-1zM297,473h1v1h-1zM264,474h1v2h-1zM275,474h1v1h-1zM280,474h1v1h-1zM281,474h1v1h-1zM264,475h1v1h-1zM267,475h1v1h-1zM279,475h1v1h-1zM287,475h1v1h-1zM290,475h2v1h-2z" fill="#ffffff"/>
<path d="M213,452h1v2h-1zM216,452h1v1h-1zM217,452h1v1h-1zM213,453h1v1h-1zM214,454h1v1h-1zM216,454h1v1h-1z" fill="#8c0000"/>
<path d="M221,447h1v1h-1zM224,447h1v1h-1zM224,450h1v2h-1zM220,452h1v1h-1zM220,453h1v2h-1zM225,453h2v1h-2z" fill="#8c0000"/>
<path d="M233,451h2v1h-2zM235,452h1v1h-1zM240,452h2v1h-2zM228,453h2v1h-2zM229,453h2v1h-2zM239,453h1v1h-1zM238,454h1v1h-1zM234,455h1v2h-1zM230,456h1v1h-1zM228,459h1v1h-1zM231,459h1v1h-1zM236,459h1v1h-1zM229,460h1v1h-1zM231,460h1v2h-1z" fill="#8c0000"/>
<path d="M264,448h2v1h-2zM269,449h2v1h-2zM263,450h1v1h-1zM267,450h2v1h-2zM260,452h1v1h-1zM261,452h1v1h-1zM263,452h1v1h-1zM268,452h1v2h-1zM265,453h1v2h-1zM269,454h2v1h-2z" fill="#8c0000"/>
<path d="M287,450h2v1h-2zM286,453h1v1h-1z" fill="#8c0000"/>
<path d="M308,444h2v1h-2zM308,445h1v1h-1zM303,447h1v1h-1zM302,450h1v2h-1zM307,450h1v1h-1z" fill="#8c0000"/>
<path d="M305,448h2v1h-2zM307,448h1v1h-1zM304,449h1v1h-1zM308,449h1v2h-1zM304,450h1v2h-1zM305,450h1v1h-1zM306,450h1v1h-1zM307,451h1v1h-1z" fill="#ff1700"/>
<path d="M188,457h1v1h-1zM189,459h1v1h-1zM195,459h1v1h-1zM195,460h1v2h-1zM189,462h1v1h-1zM193,462h1v1h-1zM190,464h1v1h-1z" fill="#8c0000"/>
<path d="M183,462h1v1h-1zM184,465h1v2h-1zM181,467h1v2h-1zM183,470h1v2h-1z" fill="#8c0000"/>
<path d="M203,457h1v2h-1zM209,457h1v2h-1zM211,457h1v1h-1zM214,457h2v1h-2zM216,457h1v1h-1zM205,458h2v1h-2zM216,458h2v1h-2zM217,458h1v1h-1zM207,459h2v1h-2zM215,459h2v1h-2zM219,459h1v1h-1zM207,460h2v1h-2zM212,460h1v2h-1zM215,461h1v1h-1zM207,462h2v1h-2zM208,462h1v1h-1zM212,462h2v1h-2z" fill="#ff7300"/>
<path d="M186,463h1v2h-1zM187,463h2v1h-2zM192,463h1v1h-1zM194,463h1v1h-1zM186,464h1v1h-1zM189,464h1v1h-1zM190,464h1v2h-1zM195,464h1v1h-1zM184,465h2v1h-2zM188,465h1v2h-1zM190,465h1v2h-1zM191,465h1v2h-1zM194,465h1v1h-1zM195,465h1v2h-1zM189,466h1v1h-1zM195,466h2v1h-2zM186,467h1v1h-1zM194,467h1v1h-1zM185,468h1v2h-1zM187,468h1v1h-1zM189,468h2v1h-2zM192,468h2v1h-2zM185,469h2v1h-2zM187,469h1v1h-1zM191,469h2v1h-2zM192,469h1v1h-1zM193,469h1v1h-1zM194,469h1v1h-1zM184,470h1v1h-1zM186,470h1v1h-1zM187,470h1v2h-1z" fill="#fffd00"/>
<path d="M263,451h1v1h-1zM274,451h2v1h-2zM261,452h1v1h-1zM263,452h1v2h-1zM271,452h2v1h-2zM273,452h2v1h-2zM261,453h1v1h-1zM266,453h1v1h-1zM271,453h1v1h-1zM272,454h1v2h-1zM266,455h1v1h-1zM268,455h1v1h-1zM270,455h2v1h-2zM275,455h1v1h-1zM261,456h1v2h-1zM266,456h1v1h-1zM268,456h1v1h-1zM271,456h1v1h-1z" fill="#fffd00"/>
<path d="M314.7,452.6L316.0,443.7L317.4,443.7L318.4,452.6Z" fill="#fffd00"/>
<path d="M150.2,495.1L142.6,500.4L139.1,506.9L137.9,516.2L139.6,523.3L142.6,530.3L144.3,530.3L141.4,522.1L140.2,515.1L141.4,508.0L144.3,502.2L151.4,495.7Z" fill="#daff25"/>
<path d="M160,479h1v1h-1zM161,479h2v1h-2zM161,480h2v1h-2zM162,480h1v1h-1zM155,481h1v1h-1zM156,481h1v2h-1zM157,481h1v1h-1zM159,481h1v2h-1zM161,481h1v2h-1zM152,482h1v1h-1zM154,482h2v1h-2zM156,482h1v2h-1zM157,482h1v1h-1zM160,482h1v2h-1zM162,482h1v2h-1zM163,482h1v1h-1zM164,482h1v1h-1zM153,483h1v1h-1zM157,483h1v2h-1zM158,483h1v2h-1zM154,484h1v1h-1zM156,484h2v1h-2zM158,484h2v1h-2zM148,486h1v2h-1zM151,486h2v1h-2zM153,486h1v2h-1zM154,486h1v1h-1zM147,487h2v1h-2zM153,487h2v1h-2zM147,488h2v1h-2zM148,488h1v1h-1zM149,488h1v1h-1zM150,488h1v2h-1zM151,488h1v1h-1zM145,489h1v1h-1zM147,490h1v2h-1zM143,491h1v2h-1zM146,491h1v2h-1zM143,492h2v1h-2zM143,493h1v1h-1zM144,493h2v1h-2zM141,494h2v1h-2zM142,494h1v1h-1zM141,495h1v1h-1zM139,497h1v1h-1zM140,497h1v2h-1zM140,499h1v1h-1zM139,501h1v1h-1zM137,502h1v1h-1zM136,504h1v1h-1zM135,505h1v1h-1zM137,507h2v1h-2zM136,508h1v2h-1zM137,508h2v1h-2zM134,510h1v2h-1zM136,510h1v2h-1zM134,511h2v1h-2zM136,512h1v1h-1zM131,513h2v1h-2zM132,513h2v1h-2zM134,513h2v1h-2zM135,513h1v2h-1zM133,514h1v1h-1zM132,516h1v1h-1zM135,516h1v1h-1zM130,517h1v1h-1zM133,517h1v1h-1zM134,518h2v1h-2zM136,518h1v1h-1zM133,519h1v2h-1zM135,519h1v2h-1zM131,520h2v1h-2zM133,520h1v1h-1zM134,520h2v1h-2zM131,521h1v1h-1zM136,521h1v1h-1zM137,521h1v1h-1zM131,522h1v1h-1zM133,522h1v2h-1zM135,523h1v1h-1zM132,524h2v1h-2zM137,524h1v1h-1zM131,525h1v2h-1zM135,525h1v1h-1zM136,525h2v1h-2zM138,525h1v1h-1zM134,526h1v1h-1zM135,526h1v1h-1zM136,526h1v1h-1zM134,527h1v1h-1zM135,527h1v1h-1zM136,527h1v1h-1zM134,528h1v1h-1zM135,528h1v1h-1zM136,528h2v1h-2zM138,528h1v1h-1zM139,528h1v1h-1zM140,528h1v1h-1zM132,529h2v1h-2zM136,529h1v1h-1zM138,529h2v1h-2zM133,530h1v2h-1zM135,530h1v2h-1zM136,530h1v2h-1zM137,530h1v1h-1zM138,530h1v1h-1zM135,531h1v1h-1zM137,531h1v1h-1zM133,532h1v2h-1zM134,532h2v1h-2zM136,532h1v1h-1zM137,532h1v1h-1zM138,532h2v1h-2zM142,532h1v1h-1zM134,533h2v1h-2zM137,533h1v1h-1zM138,533h1v1h-1zM139,533h2v1h-2zM141,533h1v2h-1zM141,534h1v1h-1zM142,534h2v1h-2zM135,535h1v1h-1zM136,535h1v1h-1zM137,535h1v1h-1zM140,535h1v1h-1zM141,535h2v1h-2zM134,536h1v1h-1zM136,536h1v2h-1zM137,536h1v1h-1zM139,536h1v2h-1zM136,537h1v1h-1zM138,537h1v2h-1zM141,537h1v1h-1zM142,537h2v1h-2zM136,538h1v1h-1zM138,538h1v2h-1zM139,538h1v1h-1zM140,538h1v1h-1zM137,539h1v1h-1zM138,539h1v1h-1zM139,539h1v1h-1zM140,539h1v1h-1zM141,539h1v1h-1zM142,539h2v1h-2zM136,540h1v1h-1zM138,540h1v1h-1zM140,540h1v1h-1zM136,541h1v1h-1zM140,541h1v1h-1zM138,542h1v2h-1zM140,542h2v1h-2zM138,543h1v2h-1z" fill="#8c0000"/>
<path d="M152.5,483.4L154.9,482.3L156.6,485.2L157.2,488.7L154.9,488.7L153.1,486.4Z" fill="#8c0000"/>
<path d="M163,480h2v1h-2zM164,480h1v1h-1zM163,481h1v2h-1zM164,481h1v1h-1zM160,482h1v2h-1zM164,482h1v1h-1zM156,483h2v1h-2zM160,483h1v1h-1zM162,483h1v1h-1zM153,484h1v1h-1zM156,484h1v2h-1zM157,484h1v1h-1zM158,484h1v1h-1zM163,484h1v1h-1zM151,485h1v1h-1zM153,485h1v2h-1zM156,485h1v1h-1zM160,485h2v1h-2zM161,485h1v1h-1zM150,486h2v1h-2zM155,486h1v1h-1zM157,486h1v1h-1zM159,486h1v1h-1zM151,487h1v2h-1zM152,487h2v1h-2zM153,487h1v1h-1zM154,487h1v1h-1zM157,487h1v1h-1zM143,488h1v2h-1zM146,488h1v1h-1zM149,488h1v1h-1zM151,488h1v2h-1zM153,488h2v1h-2zM155,488h2v1h-2zM156,488h2v1h-2zM157,488h1v1h-1zM142,489h1v1h-1zM143,489h1v1h-1zM148,489h2v1h-2zM142,490h1v1h-1zM146,490h1v1h-1zM148,490h1v1h-1zM151,490h1v1h-1zM153,490h1v1h-1zM155,490h1v1h-1zM142,491h1v1h-1zM144,491h2v1h-2zM153,491h1v1h-1zM142,492h1v1h-1zM144,492h2v1h-2zM147,492h1v1h-1zM148,492h1v2h-1zM145,493h1v1h-1zM146,493h2v1h-2zM143,494h1v1h-1zM143,495h1v2h-1zM143,497h2v1h-2z" fill="#daff25"/>
<path d="M136,543h1v2h-1zM135,544h1v1h-1zM135,547h2v1h-2zM136,547h1v1h-1zM138,548h2v1h-2zM135,549h1v2h-1zM134,552h1v1h-1z" fill="#fffd00"/>
<path d="M131,542h1v1h-1zM134,542h2v1h-2zM135,548h1v1h-1zM131,550h1v1h-1z" fill="#8c0000"/>
<path d="M194,461h2v1h-2zM193,463h2v1h-2zM186,465h1v1h-1zM181,467h1v1h-1zM184,467h1v2h-1zM189,468h1v1h-1zM182,471h2v1h-2zM176,472h1v1h-1zM180,472h1v1h-1zM181,472h1v1h-1zM182,473h1v2h-1zM175,475h1v1h-1zM176,478h1v1h-1z" fill="#8c0000"/>
<path d="M189,463h2v1h-2zM187,466h1v2h-1zM189,466h2v1h-2zM189,467h1v2h-1zM183,468h1v1h-1zM184,470h1v1h-1zM175,472h1v1h-1zM179,472h1v2h-1zM177,473h1v2h-1zM181,474h1v1h-1zM178,475h1v2h-1z" fill="#ffa100"/>
<path d="M184.7,467.0L188.3,463.5L190.6,462.3L192.3,465.3L188.3,468.2Z" fill="#daff25"/>
<path d="M133.8,553.7L132.3,563.1L133.0,574.8" fill="none" stroke="#ffffff" stroke-width="1"/>
<path d="M374,449h1v2h-1zM375,449h1v1h-1zM357,450h1v1h-1zM359,450h1v2h-1zM370,450h1v1h-1zM376,450h1v1h-1zM357,452h1v1h-1zM356,453h1v2h-1zM365,454h1v1h-1zM371,454h1v1h-1zM377,454h1v1h-1zM364,455h1v1h-1zM364,457h1v1h-1zM372,457h1v2h-1zM365,458h1v2h-1zM366,459h1v1h-1zM379,459h1v1h-1zM377,461h2v1h-2zM371,462h1v2h-1z" fill="#8c0000"/>
<path d="M368.6,461.1L373.0,460.2L373.9,462.5L369.2,462.8Z" fill="#ff4500"/>
<path d="M391,453h1v1h-1zM395,453h2v1h-2zM391,454h1v1h-1zM392,454h1v1h-1zM393,454h2v1h-2zM394,454h1v1h-1zM397,455h1v1h-1zM392,456h2v1h-2zM394,456h1v1h-1zM395,456h1v1h-1zM398,456h1v1h-1zM392,457h1v2h-1zM393,457h1v1h-1zM396,457h1v1h-1z" fill="#8c0000"/>
<path d="M407,459h1v1h-1zM409,459h1v1h-1zM413,459h1v2h-1zM404,460h1v1h-1zM406,460h1v2h-1zM410,460h1v2h-1zM409,461h1v1h-1zM412,461h1v1h-1zM405,462h1v1h-1zM408,463h1v2h-1zM409,463h1v1h-1zM410,463h1v2h-1zM415,463h1v1h-1zM406,464h2v1h-2zM407,464h1v1h-1zM409,464h1v2h-1zM410,464h1v1h-1zM412,464h1v1h-1zM405,466h1v1h-1zM410,466h1v1h-1zM413,467h1v1h-1zM415,467h1v1h-1zM410,468h2v1h-2zM414,468h1v2h-1zM414,469h1v1h-1zM416,469h1v2h-1zM411,470h1v1h-1zM412,470h1v1h-1zM413,470h1v2h-1zM414,471h1v1h-1zM417,471h1v1h-1zM412,472h1v2h-1zM416,472h1v1h-1zM412,473h2v1h-2zM416,473h2v1h-2zM418,473h2v1h-2zM415,474h1v2h-1zM414,475h1v1h-1zM415,475h1v1h-1zM415,476h1v1h-1zM418,476h1v1h-1zM415,477h2v1h-2zM418,477h2v1h-2zM414,478h1v1h-1zM415,479h2v1h-2zM417,479h1v1h-1zM418,479h1v1h-1zM417,481h1v2h-1zM418,482h2v1h-2z" fill="#8c0000"/>
<path d="M418,490h1v1h-1zM420,490h1v1h-1zM416,491h2v1h-2zM421,491h2v1h-2zM416,493h1v1h-1zM423,494h1v1h-1zM421,495h2v1h-2zM423,496h1v1h-1zM424,498h1v1h-1z" fill="#8c0000"/>
<path d="M412,472h1v2h-1zM413,472h1v1h-1zM411,473h2v1h-2zM412,473h1v1h-1zM414,473h1v1h-1zM411,474h1v1h-1zM414,475h1v1h-1zM413,476h2v1h-2zM412,478h1v1h-1zM413,478h1v1h-1zM414,478h1v2h-1zM415,479h1v1h-1zM416,479h1v1h-1zM413,480h1v1h-1zM415,480h1v1h-1zM414,482h1v1h-1z" fill="#fffd00"/>
<path d="M301,441h1v1h-1zM308,447h2v1h-2zM303,449h1v1h-1zM307,450h1v1h-1zM309,451h1v1h-1z" fill="#8c0000"/>
<path d="M314.2,452.6L315.7,444.0L317.1,444.0L318.4,452.6Z" fill="#daff25"/>
<path d="M331,449h2v1h-2zM334,449h2v1h-2zM336,449h1v1h-1zM330,450h1v1h-1zM335,450h1v1h-1zM336,450h1v1h-1zM332,452h1v1h-1z" fill="#daff25"/>
<path d="M429,418h1v1h-1zM430,418h1v1h-1zM438,418h1v1h-1zM429,419h2v1h-2zM430,420h2v1h-2zM439,420h2v1h-2zM429,422h1v1h-1zM432,422h1v1h-1zM428,424h1v1h-1zM435,424h1v1h-1zM437,424h2v1h-2zM438,424h2v1h-2zM433,425h1v1h-1zM437,425h1v2h-1zM440,425h1v2h-1zM442,425h1v2h-1zM429,426h2v1h-2zM431,426h1v1h-1zM432,426h1v2h-1zM433,426h1v1h-1zM428,427h1v2h-1zM433,427h1v2h-1zM434,427h2v1h-2zM437,427h1v1h-1zM438,427h1v1h-1zM440,427h1v1h-1zM441,427h1v1h-1zM442,427h2v1h-2zM428,428h1v2h-1zM436,428h1v1h-1zM438,428h1v2h-1zM439,428h1v1h-1zM430,429h1v1h-1zM433,429h2v1h-2zM436,429h2v1h-2zM428,430h1v1h-1zM437,430h1v1h-1zM440,430h1v1h-1zM434,431h1v1h-1zM438,431h1v1h-1zM439,431h1v1h-1zM441,431h2v1h-2zM429,432h1v1h-1zM436,433h1v2h-1zM440,433h1v1h-1zM433,434h1v1h-1zM441,434h1v1h-1zM432,435h1v1h-1zM437,435h1v1h-1zM430,436h1v1h-1zM428,437h1v1h-1zM434,437h1v2h-1zM428,438h2v1h-2zM429,438h1v1h-1zM431,438h2v1h-2zM433,438h1v2h-1zM434,439h1v2h-1zM439,439h2v1h-2zM428,441h1v1h-1zM433,441h1v1h-1zM438,441h2v1h-2zM432,442h1v1h-1zM433,442h2v1h-2zM437,442h2v1h-2zM429,443h2v1h-2zM431,443h1v1h-1zM434,443h2v1h-2zM435,443h1v1h-1zM430,444h1v2h-1zM431,444h1v1h-1z" fill="#8c0000"/>
<path d="M431,448h1v1h-1zM438,448h1v2h-1zM436,452h1v2h-1zM437,454h2v1h-2zM435,455h1v2h-1zM434,456h1v1h-1zM437,456h1v2h-1zM435,458h1v1h-1zM434,465h1v1h-1zM442,465h1v1h-1zM435,466h1v1h-1zM436,466h2v1h-2zM438,467h2v1h-2zM441,467h1v1h-1zM431,468h1v1h-1zM438,468h1v1h-1z" fill="#8c0000"/>
<path d="M439,439h1v1h-1zM431,440h1v1h-1zM440,440h1v1h-1zM434,441h2v1h-2zM440,441h1v1h-1zM433,447h1v2h-1zM435,447h1v1h-1zM439,447h1v1h-1zM438,448h1v2h-1zM440,449h2v1h-2zM437,453h1v1h-1zM438,455h2v1h-2zM439,456h1v1h-1zM432,457h1v1h-1zM432,460h1v2h-1zM440,461h2v1h-2zM435,465h1v1h-1zM436,465h2v1h-2zM433,467h1v2h-1zM432,468h1v2h-1zM442,468h1v2h-1zM435,469h1v1h-1zM438,469h1v1h-1z" fill="#ff7300"/>
<path d="M446,403h2v1h-2zM442,406h1v1h-1zM444,407h1v1h-1zM448,410h1v1h-1zM443,411h1v1h-1zM454,413h1v1h-1zM450,414h1v1h-1zM454,414h1v1h-1zM445,416h1v1h-1zM446,416h2v1h-2z" fill="#8c0000"/>
<path d="M457,404h1v1h-1zM459,404h2v1h-2zM458,407h2v1h-2zM457,408h1v1h-1zM453,409h1v1h-1zM457,410h1v1h-1zM458,412h1v1h-1zM451,414h1v1h-1z" fill="#ff7300"/>
<path d="M476,385h1v1h-1zM478,385h1v2h-1zM475,386h1v1h-1zM476,386h1v1h-1zM480,386h1v2h-1zM468,387h2v1h-2zM476,387h2v1h-2zM479,387h1v1h-1zM475,390h1v1h-1zM466,391h1v1h-1zM467,392h1v2h-1zM478,392h1v1h-1zM468,395h1v2h-1zM472,395h1v1h-1zM466,396h1v1h-1zM469,396h1v1h-1zM468,397h1v1h-1zM471,397h1v1h-1zM473,397h1v2h-1zM478,397h1v1h-1zM466,398h1v1h-1zM470,398h1v1h-1zM473,400h1v1h-1zM470,401h1v1h-1zM470,403h1v1h-1z" fill="#8c0000"/>
<path d="M473,390h1v2h-1zM475,391h1v2h-1zM478,391h1v2h-1zM476,392h1v2h-1zM474,394h2v1h-2zM477,394h1v1h-1zM474,395h1v1h-1zM474,396h2v1h-2zM476,396h1v1h-1zM480,396h1v1h-1zM474,397h1v1h-1zM475,397h1v1h-1zM479,397h1v2h-1zM480,397h1v1h-1z" fill="#8c0000"/>
<path d="M491,380h1v2h-1zM494,380h1v1h-1zM487,382h1v1h-1zM492,384h1v1h-1zM494,384h1v1h-1zM488,385h1v1h-1zM486,386h1v1h-1zM491,387h1v2h-1zM493,387h2v1h-2z" fill="#8c0000"/>
<path d="M507,369h1v1h-1zM498,370h1v2h-1zM505,370h1v1h-1zM502,371h1v2h-1zM506,372h1v1h-1zM501,374h2v1h-2zM500,375h1v2h-1zM501,375h1v1h-1zM508,375h1v1h-1zM502,376h1v1h-1zM507,376h1v1h-1zM505,377h2v1h-2zM502,380h1v1h-1z" fill="#8c0000"/>
<path d="M504,374h1v1h-1zM502,375h1v2h-1zM503,375h1v1h-1zM500,376h1v1h-1zM505,377h1v2h-1zM507,377h2v1h-2z" fill="#ff4500"/>
<path d="M513,348h1v1h-1zM516,348h1v1h-1zM521,348h1v1h-1zM514,349h2v1h-2zM512,352h1v1h-1zM515,353h2v1h-2zM514,356h1v1h-1zM513,357h1v2h-1zM522,358h1v1h-1zM513,360h1v1h-1zM521,360h1v1h-1zM513,361h1v1h-1zM516,361h1v1h-1zM514,363h2v1h-2zM522,366h1v1h-1zM514,367h1v1h-1zM516,367h1v2h-1zM517,367h1v1h-1zM515,369h1v2h-1zM517,369h2v1h-2zM514,370h1v1h-1zM515,370h1v2h-1zM517,370h1v1h-1z" fill="#8c0000"/>
<path d="M541,330h1v2h-1zM526,331h1v1h-1zM532,331h1v2h-1zM534,331h1v1h-1zM525,332h1v2h-1zM528,332h1v1h-1zM524,333h1v1h-1zM538,333h1v1h-1zM540,333h1v1h-1zM525,336h2v1h-2zM523,337h1v1h-1zM539,337h1v1h-1zM525,338h1v1h-1zM526,338h1v1h-1zM526,339h1v1h-1zM531,339h1v1h-1zM534,339h1v1h-1zM526,340h2v1h-2zM529,340h1v1h-1zM539,340h1v1h-1zM530,341h1v1h-1zM532,341h1v2h-1zM536,343h1v1h-1zM541,343h1v1h-1zM532,344h1v1h-1zM539,344h1v1h-1zM540,344h1v1h-1zM525,345h1v1h-1zM528,345h1v2h-1zM537,345h2v1h-2z" fill="#8c0000"/>
<path d="M523,335h1v1h-1zM527,335h1v1h-1zM524,339h2v1h-2zM524,340h1v1h-1zM527,340h1v2h-1zM522,343h2v1h-2zM523,345h1v1h-1zM527,345h1v2h-1zM527,346h2v1h-2zM524,348h1v1h-1zM521,349h1v1h-1z" fill="#ff7300"/>
<path d="M490.4,332.1L494.5,334.8L497.9,335.7" fill="none" stroke="#ffffff" stroke-width="1.4"/>
<path d="M501.4,335.5L508.9,336.6" fill="none" stroke="#ffffff" stroke-width="1.4"/>
<path d="M437.1,381.7L443.5,382.2" fill="none" stroke="#ffffff" stroke-width="1.4"/>
<path d="M420.7,384.7L424.1,389.5L420.7,390.2" fill="none" stroke="#ffffff" stroke-width="1.4"/>
<path d="M456.2,391.3L461.7,394.0L466.5,394.3" fill="none" stroke="#ffffff" stroke-width="1.4"/>
<path d="M464.4,395.6L466.5,397.7" fill="none" stroke="#ffffff" stroke-width="1.4"/>
<path d="M542,284h1v1h-1zM555,284h1v1h-1zM541,285h2v1h-2zM551,285h2v1h-2zM543,288h1v1h-1zM555,288h1v1h-1zM544,290h1v1h-1zM547,290h1v1h-1zM542,291h1v2h-1zM553,291h2v1h-2zM557,291h1v1h-1zM550,292h2v1h-2zM548,295h1v1h-1zM557,296h1v1h-1zM554,298h1v2h-1z" fill="#8c0000"/>
<path d="M556,275h1v1h-1z" fill="#8c0000"/>
<path d="M537,329h1v1h-1zM527,330h1v1h-1zM525,331h1v1h-1zM528,331h2v1h-2zM527,332h1v2h-1zM532,332h1v1h-1zM534,332h1v1h-1zM529,333h1v1h-1zM534,335h1v1h-1zM526,336h1v1h-1zM539,336h2v1h-2zM535,337h1v1h-1zM541,337h1v1h-1zM530,338h1v1h-1zM533,338h1v1h-1zM535,338h1v2h-1zM540,340h1v2h-1zM541,341h2v1h-2zM529,342h1v1h-1zM531,342h1v1h-1zM532,342h2v1h-2zM540,342h2v1h-2zM530,343h2v1h-2zM535,344h2v1h-2zM531,345h1v1h-1zM532,345h2v1h-2zM538,345h1v1h-1zM542,345h2v1h-2z" fill="#8c0000"/>
<path d="M514,348h1v2h-1zM520,348h2v1h-2zM515,349h2v1h-2zM517,349h1v2h-1zM518,349h1v1h-1zM523,349h1v2h-1zM512,350h2v1h-2zM520,350h1v1h-1zM517,351h1v1h-1zM519,351h1v1h-1zM513,352h1v1h-1zM518,352h1v1h-1zM521,352h2v1h-2zM514,353h1v2h-1zM517,353h1v2h-1zM524,354h1v1h-1zM520,355h1v1h-1zM515,358h1v2h-1zM519,358h1v1h-1zM520,359h1v1h-1zM524,359h1v1h-1zM516,360h1v2h-1zM519,360h1v1h-1zM521,361h1v1h-1zM515,362h1v1h-1zM521,362h1v2h-1zM513,363h1v1h-1zM514,363h2v1h-2zM519,363h1v1h-1zM522,363h1v1h-1zM513,364h2v1h-2zM518,365h1v1h-1zM517,368h1v1h-1zM517,369h1v1h-1z" fill="#8c0000"/>
<path d="M526,332h2v1h-2zM527,335h2v1h-2zM526,337h1v2h-1zM522,339h1v1h-1zM527,341h1v1h-1zM527,344h2v1h-2zM521,346h1v1h-1z" fill="#ff7300"/>
<path d="M502,374h1v2h-1zM504,374h1v1h-1zM499,375h1v1h-1zM503,375h1v1h-1zM502,377h2v1h-2zM503,378h1v1h-1z" fill="#8c0000"/>
<path d="M492,381h1v1h-1zM492,382h2v1h-2zM490,383h2v1h-2zM491,384h1v1h-1z" fill="#8c0000"/>
<path d="M576,254h1v1h-1zM574,256h1v1h-1zM574,258h2v1h-2z" fill="#8c0000"/>
<path d="M433.6,518.7L441.9,517.4L443.1,511.1L449.5,509.2L452.0,493.3L450.1,484.4L447.0,478.1L448.9,478.1L453.3,488.2L457.1,499.6L460.9,511.1L464.1,518.7L464.7,528.8L462.8,537.7L459.6,540.3L457.1,536.4L449.5,534.5L443.1,535.8L436.8,532.6L433.6,527.6Z" fill="#8c0000"/>
<path d="M446,516h1v1h-1zM447,516h1v1h-1zM450,516h1v1h-1zM439,517h2v1h-2zM445,517h1v1h-1zM450,517h1v1h-1zM435,518h1v2h-1zM439,518h1v2h-1zM440,518h1v1h-1zM446,518h1v1h-1zM434,519h1v1h-1zM435,519h1v2h-1zM443,520h1v1h-1zM446,520h1v1h-1zM448,520h2v1h-2zM449,520h1v1h-1zM445,521h1v1h-1zM446,521h1v1h-1zM448,521h1v1h-1zM442,522h1v1h-1zM443,522h1v1h-1zM448,522h1v1h-1zM442,523h1v1h-1zM443,523h1v1h-1zM448,523h1v1h-1zM450,523h1v1h-1zM440,524h1v1h-1zM442,524h1v1h-1zM444,524h1v1h-1zM445,524h1v1h-1zM447,524h1v1h-1zM435,525h1v1h-1zM437,525h1v2h-1zM445,525h2v1h-2zM450,525h1v1h-1zM444,526h1v1h-1zM445,526h1v2h-1zM448,526h1v1h-1zM434,527h1v1h-1zM438,527h2v1h-2zM447,527h2v1h-2zM450,527h1v2h-1zM436,528h1v1h-1zM438,528h1v1h-1zM445,528h1v2h-1zM447,528h2v1h-2zM449,528h1v1h-1zM445,529h1v2h-1zM446,529h1v1h-1zM436,530h1v1h-1zM438,530h2v1h-2zM439,530h1v1h-1zM441,530h1v2h-1zM442,530h1v1h-1zM446,530h1v1h-1zM449,531h2v1h-2zM445,532h1v1h-1zM443,533h1v2h-1zM445,533h1v1h-1zM447,533h1v1h-1zM450,533h1v1h-1zM448,534h1v1h-1z" fill="#ffffff"/>
<path d="M447,510h1v1h-1zM444,511h1v1h-1zM447,514h1v1h-1zM438,515h1v1h-1zM444,515h1v1h-1zM448,515h1v1h-1zM440,516h1v1h-1zM441,516h2v1h-2zM444,516h1v1h-1zM445,516h1v1h-1zM440,517h1v1h-1zM443,517h1v1h-1zM440,518h1v1h-1zM444,518h1v1h-1zM445,518h1v1h-1zM446,518h2v1h-2zM449,518h1v2h-1zM439,519h1v1h-1zM449,519h1v1h-1zM449,521h1v1h-1zM447,522h2v1h-2zM439,524h1v2h-1zM442,524h1v1h-1zM447,524h1v2h-1zM435,527h1v1h-1zM446,530h2v1h-2zM445,531h2v1h-2zM441,532h1v1h-1zM446,534h1v1h-1z" fill="#d3d3d3"/>
<path d="M453,504h1v1h-1zM455,504h1v1h-1zM457,504h1v1h-1zM458,504h2v1h-2zM458,505h2v1h-2zM451,506h1v1h-1zM458,506h2v1h-2zM459,506h2v1h-2zM459,508h1v1h-1zM453,509h1v1h-1zM457,509h1v2h-1zM456,510h2v1h-2zM453,511h2v1h-2zM452,512h1v2h-1zM456,512h1v2h-1zM452,513h1v2h-1zM459,514h1v1h-1zM456,515h1v1h-1zM461,515h1v1h-1zM456,517h1v1h-1zM454,519h1v2h-1zM460,520h1v2h-1zM457,522h1v2h-1zM456,524h1v2h-1zM459,524h2v1h-2zM461,526h1v1h-1zM455,527h2v1h-2zM462,527h1v2h-1zM460,528h1v1h-1zM462,528h1v2h-1zM457,531h1v1h-1zM462,533h1v1h-1zM459,534h1v2h-1zM461,534h1v2h-1zM459,536h1v1h-1zM462,536h1v2h-1z" fill="#ffffff"/>
<path d="M446.3,515.1L450.8,511.1L454.6,514.9L451.8,520.2L446.3,515.1" fill="none" stroke="#e8b8b8" stroke-width="0.8"/>
<path d="M445.7,536.7L450.1,534.5L457.1,536.4L456.7,545.3L450.8,546.1L448.2,541.5Z" fill="#ff4500"/>
<path d="M450.1,534.5L457.1,536.4L456.9,540.3L452.0,539.0Z" fill="#ff1700"/>
<path d="M438.1,534.2L445.7,536.7L448.9,543.0L451.4,546.9L448.2,549.4L444.4,545.3L440.6,538.4Z" fill="#fffd00"/>
<path d="M442,538h1v1h-1zM442,541h1v1h-1zM443,542h1v1h-1zM446,542h1v1h-1zM442,543h1v1h-1zM442,544h1v1h-1zM443,544h1v1h-1zM445,544h1v1h-1zM445,545h1v2h-1zM453,545h1v2h-1zM455,545h1v1h-1zM444,546h1v2h-1zM445,546h1v1h-1zM446,546h1v2h-1zM449,546h1v1h-1zM453,546h1v1h-1zM445,547h2v1h-2zM448,547h1v1h-1zM451,547h2v1h-2zM452,547h2v1h-2zM453,547h1v2h-1zM458,547h1v2h-1zM448,548h2v1h-2zM449,548h1v1h-1zM459,548h1v1h-1zM449,549h1v2h-1zM450,549h1v2h-1zM451,549h1v1h-1z" fill="#ffffff"/>
<path d="M442,537h1v2h-1zM444,538h2v1h-2zM446,538h1v1h-1zM442,539h2v1h-2zM446,539h1v1h-1zM442,540h1v1h-1zM445,540h1v1h-1zM446,540h2v1h-2zM447,540h1v1h-1zM446,541h1v1h-1zM447,541h1v2h-1zM444,542h1v2h-1zM447,543h2v1h-2zM447,544h1v1h-1z" fill="#ffa100"/>
<path d="M401,460h1v1h-1zM402,461h2v1h-2zM403,461h2v1h-2zM402,463h1v1h-1zM400,464h1v1h-1zM407,464h1v1h-1zM408,464h1v1h-1zM405,465h1v1h-1zM404,466h1v1h-1zM408,466h1v2h-1zM403,467h2v1h-2zM405,467h1v1h-1zM408,467h1v1h-1zM409,469h1v1h-1zM409,470h1v1h-1zM413,470h1v1h-1zM407,471h2v1h-2zM409,471h1v1h-1zM411,473h1v2h-1zM413,473h1v2h-1zM414,473h1v2h-1zM413,474h1v1h-1zM413,475h1v1h-1zM414,475h1v1h-1zM412,476h2v1h-2zM413,476h1v2h-1zM414,476h1v1h-1zM417,476h1v1h-1zM412,477h1v1h-1zM416,477h1v1h-1zM414,478h1v1h-1zM415,478h1v1h-1zM416,478h1v1h-1zM415,479h1v1h-1zM416,479h1v2h-1z" fill="#8c0000"/>
<path d="M419,490h1v1h-1zM423,490h1v1h-1zM417,492h1v1h-1zM418,492h1v1h-1zM418,493h2v1h-2zM421,493h1v2h-1zM420,496h2v1h-2zM415,499h1v2h-1z" fill="#8c0000"/>
<path d="M414,493h1v1h-1zM414,494h1v1h-1zM415,495h1v1h-1zM417,495h1v1h-1zM416,496h2v1h-2zM414,497h1v1h-1zM418,497h1v1h-1zM419,497h1v2h-1zM417,498h2v1h-2zM414,499h1v1h-1zM417,500h1v1h-1zM417,501h1v1h-1zM417,502h2v1h-2zM418,502h1v2h-1z" fill="#fffd00"/>
<path d="M426,506h1v1h-1zM430,506h1v1h-1zM429,509h1v1h-1zM428,510h1v1h-1zM432,510h2v1h-2zM423,511h1v1h-1zM429,512h1v2h-1zM428,517h1v1h-1zM432,517h1v2h-1zM425,519h1v1h-1z" fill="#8c0000"/>
<path d="M425,519h2v1h-2zM428,519h1v2h-1zM429,519h1v1h-1zM430,519h1v2h-1zM425,520h1v1h-1zM430,522h1v1h-1zM427,523h1v2h-1zM428,524h2v1h-2zM431,524h1v1h-1zM432,524h2v1h-2zM432,525h1v1h-1zM429,526h2v1h-2zM431,526h1v2h-1zM433,526h1v1h-1zM433,527h1v1h-1zM432,528h1v1h-1zM432,529h1v2h-1zM434,529h1v1h-1z" fill="#fffd00"/>
<path d="M442,464h1v1h-1zM435,467h1v1h-1zM440,467h1v2h-1zM434,470h1v2h-1zM440,471h1v2h-1zM440,472h1v1h-1zM442,472h1v2h-1zM437,473h1v1h-1zM436,477h1v1h-1z" fill="#8c0000"/>
<path d="M433,448h1v1h-1zM439,451h1v1h-1zM434,463h1v1h-1zM436,463h1v1h-1zM438,463h1v1h-1zM434,466h1v1h-1zM436,466h2v1h-2zM436,474h1v1h-1zM434,475h1v1h-1zM437,476h1v1h-1z" fill="#ff7300"/>
<path d="M436,440h1v2h-1zM430,441h1v1h-1zM428,442h1v1h-1zM430,444h1v2h-1zM433,444h1v2h-1zM435,444h1v2h-1z" fill="#8c0000"/>
<path d="M446,477h2v1h-2zM449,477h1v1h-1zM446,478h2v1h-2zM447,478h1v1h-1zM448,478h1v1h-1zM446,479h1v1h-1zM449,479h1v1h-1zM450,479h1v2h-1zM448,480h1v2h-1zM451,480h2v1h-2zM448,481h1v2h-1zM449,481h1v1h-1zM451,481h1v1h-1zM447,482h1v1h-1zM449,482h1v1h-1zM449,483h1v2h-1zM450,483h1v1h-1zM451,483h2v1h-2zM451,484h2v1h-2zM450,486h2v1h-2zM450,487h1v2h-1zM452,487h1v1h-1zM450,488h1v1h-1zM453,488h1v1h-1zM450,489h1v1h-1zM451,489h1v1h-1zM453,489h1v1h-1zM451,491h2v1h-2zM452,493h1v2h-1zM453,493h1v1h-1zM455,494h1v2h-1zM452,495h2v1h-2zM455,495h1v2h-1zM454,497h1v1h-1zM456,497h1v1h-1zM453,498h1v1h-1zM454,498h1v2h-1zM455,498h1v1h-1zM456,498h1v2h-1zM456,499h1v1h-1zM454,500h2v1h-2zM456,500h1v1h-1zM456,501h2v1h-2zM457,501h1v1h-1zM457,502h1v2h-1zM455,503h1v1h-1zM456,503h1v2h-1zM455,504h2v1h-2zM457,504h1v1h-1zM458,507h1v2h-1zM458,508h1v1h-1zM459,508h1v2h-1zM457,509h1v1h-1zM459,509h2v1h-2zM460,510h1v1h-1zM457,511h2v1h-2zM458,511h1v1h-1zM459,511h1v1h-1z" fill="#8c0000"/>
<path d="M452,484h2v1h-2zM453,484h1v1h-1zM452,485h1v2h-1zM455,485h1v1h-1zM455,488h1v1h-1zM455,490h1v1h-1z" fill="#ffa100"/>
<path d="M425.4,559.9L433.0,559.3L441.9,557.4" fill="none" stroke="#ffffff" stroke-width="1.2"/>
<path d="M445.7,556.8L450.8,554.8L453.9,552.9" fill="none" stroke="#ffffff" stroke-width="1.2"/>
<path d="M487.8,521.9L493.2,519.1L504.2,520.5L506.9,521.9L493.2,522.8Z" fill="#ffffff"/>
<path d="M491.9,520.5L501.4,520.5L502.1,521.6L492.6,521.9Z" fill="#d3d3d3"/>
<path d="M512.4,516.4L517.9,520.5L522.0,523.9L522.6,528.0L519.2,534.9L515.8,532.8L518.5,528.7L517.9,524.6L513.8,520.5Z" fill="#ffffff"/>
<path d="M517.2,521.9L521.3,524.6L521.7,528.0L519.5,528.0L518.9,524.6Z" fill="#d3d3d3"/>
<path d="M525.4,542.4L528.8,542.4L534.3,546.5L538.4,549.2L537.7,554.0L538.4,558.8L536.3,556.1L535.6,552.0L531.5,547.9L526.7,545.1Z" fill="#ffffff"/>
<path d="M496.0,558.8L499.4,552.0L502.1,548.5L504.2,553.3L507.6,560.2L511.0,565.6L513.1,571.1L511.7,575.9L508.3,575.2L506.2,569.7L503.5,564.3L498.7,560.2Z" fill="#ffffff"/>
<path d="M496.0,558.8L499.4,552.0L502.1,548.8L503.9,554.0L506.2,560.2L509.0,565.6L509.6,571.1L508.3,574.9L506.2,569.7L503.5,564.3L498.7,560.2Z" fill="#d3d3d3"/>
<path d="M506.9,564.3L511.0,565.6L513.1,571.1L511.7,575.9L509.0,575.2L509.0,568.4Z" fill="#ffffff"/>
<path d="M545.9,558.1L549.3,561.5L552.7,566.6L551.8,568.1" fill="none" stroke="#ffffff" stroke-width="1.3"/>
<path d="M526.7,560.2L531.5,565.6L537.0,572.5L542.5,577.9L549.3,581.8" fill="none" stroke="#ffffff" stroke-width="1"/>
<path d="M553.4,577.2L557.5,583.4L561.6,588.9L563.0,591.6" fill="none" stroke="#ffffff" stroke-width="1.3"/>
<path d="M572.5,593.0L578.0,593.7L580.7,596.0L579.4,599.8L573.9,604.6" fill="none" stroke="#ffffff" stroke-width="1.2"/>
<path d="M594.4,600.8L601.9,602.0" fill="none" stroke="#ffffff" stroke-width="1.2"/>
<path d="M512.4,550.9L517.9,549.9" fill="none" stroke="#ffffff" stroke-width="1"/>
<path d="M568.4,564.3L569.5,571.1" fill="none" stroke="#ffffff" stroke-width="1"/>
<path d="M561.6,576.6L563.7,577.4" fill="none" stroke="#ffffff" stroke-width="1"/>
<path d="M609.1,611.1L616.7,609.5L626.2,615.9L624.2,617.9L618.7,613.1L610.5,613.1Z" fill="#ffffff"/>
<path d="M594.1,600.4L603.0,602.3" fill="none" stroke="#ffffff" stroke-width="1.3"/>
<path d="M596.2,616.6L598.2,618.2" fill="none" stroke="#ffffff" stroke-width="1.3"/>
<path d="M660.4,659.2L668.6,658.7" fill="none" stroke="#ffffff" stroke-width="1.3"/>
<path d="M598.2,645.0L604.4,645.6" fill="none" stroke="#ffffff" stroke-width="1.2"/>
<path d="M470.0,594.3L476.8,598.2L483.0,597.3" fill="none" stroke="#ffffff" stroke-width="1.2"/>
<path d="M490.5,597.8L497.3,600.5L504.2,606.0L511.0,610.5L517.9,615.9" fill="none" stroke="#ffffff" stroke-width="1.2"/>
<path d="M606,612h1v2h-1zM605,613h1v2h-1zM608,613h2v2h-2zM617,614h1v2h-1zM618,614h1v1h-1zM621,614h2v2h-2zM622,614h1v1h-1zM615,615h2v1h-2zM617,615h2v1h-2zM624,615h1v2h-1zM626,615h1v2h-1zM628,615h1v2h-1zM614,616h2v2h-2zM623,616h1v2h-1zM629,616h2v2h-2zM611,617h2v1h-2zM618,617h2v1h-2zM634,617h1v1h-1zM614,618h1v1h-1zM617,618h2v1h-2zM624,618h1v1h-1zM631,618h2v2h-2zM613,619h1v1h-1zM618,619h2v2h-2zM619,619h1v1h-1zM622,620h1v1h-1zM623,620h1v1h-1zM627,620h2v1h-2zM628,620h1v2h-1zM635,620h1v1h-1zM630,621h1v2h-1zM633,621h1v2h-1zM639,621h1v1h-1zM628,622h2v2h-2zM633,622h2v2h-2zM634,622h2v2h-2zM636,622h1v2h-1zM640,622h1v2h-1zM633,623h1v1h-1zM625,624h2v2h-2zM633,624h1v1h-1zM634,624h2v2h-2zM643,624h2v1h-2zM641,625h2v1h-2zM629,626h1v1h-1zM641,626h2v2h-2zM636,627h1v1h-1zM637,627h1v2h-1zM630,628h2v2h-2zM638,628h1v1h-1zM639,628h2v1h-2zM644,628h1v2h-1zM638,629h2v1h-2zM639,629h1v2h-1zM646,629h1v1h-1zM634,630h1v1h-1zM646,630h2v2h-2zM650,630h1v1h-1zM641,631h2v2h-2zM644,631h2v1h-2zM647,631h1v2h-1zM648,631h2v1h-2zM650,631h2v1h-2zM639,632h1v2h-1zM641,632h2v2h-2zM653,632h2v2h-2zM638,633h1v2h-1zM641,633h1v1h-1zM646,633h2v2h-2zM655,633h2v2h-2zM649,634h2v1h-2zM659,634h1v2h-1zM660,634h1v1h-1zM662,634h1v1h-1zM651,635h1v2h-1zM654,635h1v2h-1zM656,635h2v2h-2zM658,635h1v1h-1zM664,635h1v1h-1zM647,636h1v1h-1zM651,636h2v2h-2zM662,636h1v1h-1zM650,637h1v2h-1zM666,637h1v2h-1zM647,638h2v2h-2zM651,638h2v2h-2zM661,638h1v2h-1zM666,638h1v2h-1zM663,639h2v1h-2zM669,639h1v2h-1zM658,640h1v2h-1zM660,640h1v2h-1zM661,640h2v2h-2zM672,640h2v2h-2zM657,641h1v1h-1zM665,641h2v2h-2zM666,641h2v2h-2zM668,641h2v2h-2zM673,641h2v2h-2zM651,642h2v2h-2zM655,642h2v1h-2zM665,642h2v2h-2zM675,642h1v1h-1zM677,642h2v1h-2zM655,643h1v2h-1zM670,643h1v1h-1zM671,643h2v2h-2zM675,643h2v2h-2zM677,643h1v1h-1zM678,643h1v1h-1zM665,644h2v1h-2zM668,644h1v2h-1zM672,645h1v1h-1zM678,645h1v2h-1zM657,646h1v1h-1zM659,646h1v2h-1zM661,646h1v2h-1zM662,646h2v1h-2zM664,646h1v2h-1zM676,646h1v1h-1zM660,647h1v2h-1zM663,647h1v2h-1zM665,647h1v2h-1zM669,647h1v2h-1zM675,649h1v2h-1zM676,649h2v1h-2z" fill="#daff25"/>
<path d="M752.4,671.4L760.0,669.1L762.0,672.0L760.0,676.5L752.4,676.9Z" fill="#ffffff"/>
<path d="M748.5,688.2L755.3,687.2" fill="none" stroke="#ffffff" stroke-width="1.2"/>
<path d="M736.8,681.2L742.6,679.8" fill="none" stroke="#ffffff" stroke-width="1.2"/>
<path d="M747.5,676.9L750.4,676.5" fill="none" stroke="#ffffff" stroke-width="1"/>
<path d="M691.8,681.4L694.4,681.8" fill="none" stroke="#ffffff" stroke-width="1"/>
<path d="M660.6,659.7L668.4,660.5" fill="none" stroke="#ffffff" stroke-width="1.3"/>
<path d="M598.1,644.3L603.9,645.2" fill="none" stroke="#ffffff" stroke-width="1.2"/>
<path d="M807.5,715.0L811.2,713.0L814.5,715.0L812.5,720.0L808.8,721.2Z" fill="#d3d3d3" stroke="#fff" stroke-width="0.7"/>
<path d="M813.2,728.0L815.8,727.5L817.5,732.5L815.5,735.5L813.8,733.0Z" fill="#d3d3d3" stroke="#fff" stroke-width="0.7"/>
<path d="M818.5,743.0L822.0,742.5L825.5,747.0L823.8,750.0L820.5,748.0Z" fill="#d3d3d3" stroke="#fff" stroke-width="0.7"/>
<path d="M821.5,757.5L823.8,757.0L824.5,761.0L822.5,763.5Z" fill="#d3d3d3" stroke="#fff" stroke-width="0.7"/>
<path d="M808.2,793.0L810.5,791.8L811.5,794.5L809.0,796.0Z" fill="#d3d3d3" stroke="#fff" stroke-width="0.7"/>
<path d="M805.5,689.0L807.8,688.5L808.2,691.2L806.0,691.5Z" fill="#d3d3d3" stroke="#fff" stroke-width="0.7"/>
<path d="M806.2,699.0L809.2,698.5L809.5,701.2L806.8,701.5Z" fill="#d3d3d3" stroke="#fff" stroke-width="0.7"/>
<path d="M815.5,715.0L818.0,716.2" fill="none" stroke="#ffffff" stroke-width="1.2"/>
<path d="M818.0,770.5L819.8,775.0" fill="none" stroke="#ffffff" stroke-width="1.2"/>
<path d="M816.0,778.0L817.2,782.5" fill="none" stroke="#ffffff" stroke-width="1.2"/>
<path d="M826.2,810.5L831.2,808.5" fill="none" stroke="#ffffff" stroke-width="1.2"/>
<path d="M798.8,705.0L800.8,707.5" fill="none" stroke="#ffffff" stroke-width="1.2"/>
<path d="M786.2,693.8L792.5,699.5" fill="none" stroke="#ffffff" stroke-width="1.2"/>
<path d="M782.0,678.8L785.0,682.5" fill="none" stroke="#ffffff" stroke-width="1.2"/>
<path d="M652.5,783.8L656.2,787.5" fill="none" stroke="#ffffff" stroke-width="1.2"/>
<path d="M668.8,788.0L676.2,794.5" fill="none" stroke="#ffffff" stroke-width="1.2"/>
<path d="M683.8,789.5L687.5,793.8" fill="none" stroke="#ffffff" stroke-width="1.2"/>
<path d="M695.8,795.5L697.5,796.0" fill="none" stroke="#ffffff" stroke-width="1.2"/>
<path d="M725.0,798.0L727.5,799.2" fill="none" stroke="#ffffff" stroke-width="1.2"/>
<path d="M753.0,797.0L756.2,798.0" fill="none" stroke="#ffffff" stroke-width="1.2"/>
<path d="M738.8,815.5L743.0,816.0" fill="none" stroke="#ffffff" stroke-width="1.2"/>
<path d="M702.5,847.5L703.5,852.5" fill="none" stroke="#ffffff" stroke-width="1.2"/>
<path d="M708.8,835.0L709.8,837.5" fill="none" stroke="#ffffff" stroke-width="1.2"/>
<path d="M711.2,797.0L717.0,796.0L718.0,799.5L711.8,800.0Z" fill="#ffffff"/>
<path d="M693.8,828.5L698.2,828.0L699.0,831.0L694.5,831.5Z" fill="#ffffff"/>
<path d="M614.0,836.2L618.1,829.8L622.8,823.9L624.3,819.2L626.3,825.1L629.8,830.9L633.9,838.0L633.4,845.0L628.7,849.7L621.6,850.9L619.9,846.2L616.4,841.5Z" fill="#daff25" stroke="#fff" stroke-width="0.7"/>
<path d="M620.0,806.2L623.0,802.0L626.2,806.2L623.8,813.0Z" fill="#7cff83"/>
<path d="M797.5,834.2L795.9,838.0L795.3,842.3L798.0,846.6L801.2,849.8L803.4,854.1L800.7,857.3L798.5,859.7" fill="none" stroke="#ffffff" stroke-width="1.2"/>
<path d="M819.5,859.7L822.7,853.0L824.0,848.8" fill="none" stroke="#ffffff" stroke-width="1.2"/>
<path d="M800.2,859.5L808.8,859.0" fill="none" stroke="#ffffff" stroke-width="1.2"/>
<path d="M758.3,813.8L763.1,812.2L767.4,811.2L769.5,812.8L768.5,815.4L764.7,816.0L761.5,814.4Z" fill="#d3d3d3" stroke="#fff" stroke-width="0.7"/>
<path d="M761.5,817.3L767.9,818.1" fill="none" stroke="#ffffff" stroke-width="1.2"/>
<path d="M770.3,824.0L776.0,821.4" fill="none" stroke="#ffffff" stroke-width="1"/>
<path d="M827,853h1v1h-1zM826,854h1v2h-1zM827,854h1v1h-1zM828,854h2v1h-2zM826,855h1v1h-1zM827,855h1v1h-1zM828,855h1v1h-1zM827,856h1v1h-1zM828,856h1v1h-1zM831,856h1v1h-1zM828,857h1v1h-1zM830,857h1v1h-1zM831,857h2v1h-2zM828,858h1v1h-1zM829,858h1v1h-1zM828,859h2v1h-2z" fill="#ffcf00"/>
<path d="M240.8,671.1L246.2,669.5L254.1,668.0L255.6,670.3L251.7,673.4L244.7,674.2Z" fill="#ffffff"/>
<path d="M290.8,729.7L298.6,727.3L299.1,729.7L292.3,732.5Z" fill="#ffffff"/>
<path d="M278.3,701.9L285.3,702.3" fill="none" stroke="#ffffff" stroke-width="1.3"/>
<path d="M254.8,744.5L258.0,744.1L258.4,746.1L255.3,746.6Z" fill="#ffffff"/>
<path d="M315.9,740.6L317.7,742.5" fill="none" stroke="#ffffff" stroke-width="1.3"/>
<path d="M261.1,689.1L263.4,690.3" fill="none" stroke="#ffffff" stroke-width="1"/>
<path d="M153.8,675.5L157.5,674.5L160.5,680.0L157.5,681.5Z" fill="#ffffff"/>
<path d="M207.5,698.0L216.2,701.0" fill="none" stroke="#ffffff" stroke-width="1.4"/>
<path d="M275.0,701.0L285.0,702.0" fill="none" stroke="#ffffff" stroke-width="1.4"/>
<path d="M175.0,710.5L177.5,712.5" fill="none" stroke="#ffffff" stroke-width="1.4"/>
<path d="M190.5,685.0L192.5,688.5" fill="none" stroke="#ffffff" stroke-width="1.4"/>
<path d="M256.2,744.2L258.8,746.2" fill="none" stroke="#ffffff" stroke-width="1.4"/>
<path d="M223.8,714.5L230.0,716.2L238.8,721.8L235.0,723.0L227.5,720.0L224.5,718.0Z" fill="#ffffff"/>
<path d="M291.2,728.5L297.5,727.0L299.0,730.5L293.0,733.0Z" fill="#ffffff"/>
<path d="M318.8,770.0L323.8,767.5L329.5,771.2L328.8,777.0L323.0,777.0Z" fill="#ffffff"/>
<path d="M343.8,787.0L351.2,786.5L353.0,790.5L345.0,791.5Z" fill="#ffffff"/>
<path d="M354.6,798.2L358.6,793.7L365.4,796.2L373.2,804.1L377.1,810.9L374.2,813.8L367.3,811.9L359.5,807.0L355.6,803.1Z" fill="#ffffff"/>
<path d="M777.5,163.3L799.4,162.8L797.8,165.6L783.8,165.3Z" fill="#ffffff"/>
<path d="M804.1,163.3L815.0,163.3L813.4,167.5L807.2,166.4Z" fill="#ffffff"/>
<path d="M819.7,164.1L827.5,163.3L824.4,167.2Z" fill="#ffffff"/>
<path d="M759.5,171.1L767.7,170.6L761.1,175.0Z" fill="#e80000"/>
<path d="M768.1,170.9L777.5,170.6" fill="none" stroke="#ffffff" stroke-width="1.3"/>
<path d="M751.7,166.9L755.6,163.3" fill="none" stroke="#fffd00" stroke-width="1"/>
<path d="M742.3,190.9L746.2,190.3L747.0,193.0L743.4,193.8Z" fill="#ffffff"/>
<path d="M656.0,163.8L662.2,167.5" fill="none" stroke="#ffffff" stroke-width="1.5"/>
<path d="M672.2,163.8L673.5,166.2" fill="none" stroke="#ffffff" stroke-width="1.5"/>
<path d="M694.8,163.8L701.0,165.5" fill="none" stroke="#ffffff" stroke-width="1.5"/>
<path d="M148.0,382.0L156.0,380.0L158.0,385.0L150.0,387.0Z" fill="#ffffff"/>
<path d="M203.0,421.0L207.0,420.0L212.0,432.0L213.0,437.0L208.0,435.0L205.0,428.0Z" fill="#ffffff"/>
<path d="M214.0,371.5L220.0,371.0" fill="none" stroke="#ffffff" stroke-width="1.2"/>
<path d="M279.0,193.0L283.0,196.0" fill="none" stroke="#ffffff" stroke-width="1.2"/>
<path d="M298.0,192.0L302.0,195.0" fill="none" stroke="#ffffff" stroke-width="1.2"/>
<path d="M232.0,185.0L240.0,187.0" fill="none" stroke="#ffffff" stroke-width="1.2"/>
<path d="M254.0,197.0L256.0,206.0" fill="none" stroke="#ffffff" stroke-width="1"/>
<path d="M345.0,307.0L347.0,318.0" fill="none" stroke="#ffffff" stroke-width="1"/>
<path d="M650.4,801.4L658.6,800.7L659.4,804.6L650.9,805.2Z" fill="#ffffff"/>
<path d="M626.4,202.2L628.7,201.6L631.1,205.1L629.3,205.9Z" fill="#ffffff"/>
<path d="M636.3,178.8L638.7,177.3L640.1,179.3L638.1,182.3L636.6,181.7Z" fill="#ffffff"/>
<path d="M657.4,163.5L660.9,163.8L661.8,168.0L659.8,167.0Z" fill="#ffffff"/>
<path d="M693.8,163.5L699.6,164.1L701.0,165.9L696.1,165.3Z" fill="#ffffff"/>
<path d="M610.3,173.1L612.0,178.5" fill="none" stroke="#ffffff" stroke-width="1.2"/>
<path d="M609.1,228.0L611.5,224.7" fill="none" stroke="#ffffff" stroke-width="1.2"/>
<path d="M641.8,199.3L645.0,198.4" fill="none" stroke="#ffffff" stroke-width="1.2"/>
<path d="M672.7,164.1L675.0,165.9" fill="none" stroke="#ffffff" stroke-width="1.2"/>
<path d="M681,187h1v2h-1zM675,189h1v1h-1zM680,189h2v1h-2zM669,190h1v1h-1zM671,190h2v1h-2zM673,190h1v1h-1zM678,190h1v2h-1zM672,191h1v2h-1zM681,191h1v2h-1zM686,191h1v1h-1zM671,192h1v2h-1zM677,192h1v1h-1zM680,192h2v1h-2zM678,193h1v2h-1zM671,195h1v1h-1zM673,195h1v1h-1zM675,195h2v1h-2z" fill="#ffffff"/>
<path d="M667,194h1v2h-1zM669,194h1v1h-1zM667,195h1v2h-1zM659,197h2v1h-2zM662,197h1v1h-1zM663,197h1v1h-1zM653,198h2v1h-2zM651,199h1v1h-1zM655,199h1v1h-1zM656,199h1v1h-1zM652,200h1v1h-1z" fill="#ffffff"/>
<path d="M635,218h1v1h-1zM633.5,226.5h1.2v1.2h-1.2zM636,234h1v1h-1zM636,239h1v1h-1zM626,238h1v1h-1zM662,195h1v1h-1zM601,254h1v1h-1zM573,257h1v1h-1zM570,262h1v1h-1zM566,268h1v1h-1zM561,275h1v1h-1zM563,281h1v1h-1zM578,248h1v1h-1zM584,252h1v1h-1zM591,250h1v1h-1zM597,247h1v1h-1zM612,246h1v1h-1z" fill="#8c0000"/>
<path d="M440.0,586.9L449.4,584.8L461.9,588.4L474.4,594.7L483.8,598.8" fill="none" stroke="#ffffff" stroke-width="1"/>
<path d="M490.0,598.1L499.4,602.0L508.8,609.1L519.7,616.9" fill="none" stroke="#ffffff" stroke-width="1.2"/>
<path d="M476.7,624.7L488.4,630.9L496.2,634.8" fill="none" stroke="#ffffff" stroke-width="1.2"/>
<path d="M440.0,658.4L445.5,658.8" fill="none" stroke="#ffffff" stroke-width="1.2"/>
<path d="M465.0,651.4L471.2,650.5" fill="none" stroke="#ffffff" stroke-width="1"/>
<path d="M426.7,616.1L432.2,614.8" fill="none" stroke="#ffffff" stroke-width="1"/>
<path d="M436.1,615.3L443.1,613.8" fill="none" stroke="#ffffff" stroke-width="1"/>
<path d="M225,457h1v1h-1zM226,458h2v1h-2zM227,458h2v1h-2zM228,458h1v1h-1zM227,459h1v1h-1zM228,459h1v1h-1zM229,459h2v1h-2zM232,459h2v1h-2zM234,459h1v1h-1zM229,460h1v1h-1zM232,460h1v1h-1zM235,460h1v1h-1zM237,460h2v1h-2zM229,461h2v1h-2zM230,461h2v1h-2zM231,461h2v1h-2zM232,461h2v1h-2zM233,461h2v1h-2zM235,461h1v1h-1zM236,461h2v1h-2zM237,461h1v1h-1zM238,461h2v1h-2zM241,461h1v1h-1zM226,462h1v1h-1zM228,462h1v1h-1zM232,462h1v1h-1zM233,462h1v1h-1zM235,462h1v1h-1zM237,462h1v1h-1zM244,462h1v1h-1zM227,463h2v1h-2zM228,463h2v1h-2zM229,463h1v1h-1zM230,463h1v1h-1zM232,463h2v1h-2zM238,463h2v1h-2zM239,463h2v1h-2zM242,463h1v1h-1zM244,463h2v1h-2zM247,463h1v1h-1zM238,464h1v1h-1zM239,464h1v1h-1zM240,464h2v1h-2zM242,464h1v1h-1zM248,464h2v1h-2zM242,465h1v1h-1zM243,465h1v1h-1zM244,465h1v1h-1zM245,465h1v1h-1zM247,465h1v1h-1zM248,465h1v1h-1zM249,465h2v1h-2zM250,466h1v1h-1zM251,466h1v1h-1zM248,467h1v1h-1zM249,467h1v1h-1zM251,467h2v1h-2z" fill="#fffd00"/>
<path d="M204,459h1v1h-1zM209,459h1v1h-1zM211,459h1v1h-1zM213,459h1v2h-1zM205,460h2v1h-2zM212,460h1v1h-1zM215,460h1v1h-1zM210,461h1v1h-1zM218,461h1v1h-1zM226,461h1v1h-1zM228,461h1v1h-1zM212,462h1v1h-1zM215,462h1v1h-1zM223,462h1v1h-1zM230,462h2v1h-2zM235,462h1v1h-1zM214,463h2v1h-2zM218,463h1v1h-1zM219,463h1v2h-1zM228,463h1v1h-1zM233,463h1v1h-1zM235,464h1v1h-1zM236,464h1v1h-1zM241,464h1v1h-1zM248,464h1v1h-1zM242,465h1v1h-1zM245,465h1v1h-1zM252,465h1v1h-1zM243,466h1v2h-1zM248,467h1v1h-1z" fill="#daff25"/>
<path d="M214,458h1v1h-1zM216,458h1v1h-1zM204,459h1v1h-1zM207,459h1v2h-1zM212,459h1v1h-1zM223,459h1v1h-1zM224,460h1v1h-1zM230,460h1v1h-1zM233,460h1v2h-1zM234,460h1v1h-1zM235,460h1v1h-1zM227,461h1v2h-1zM230,461h1v1h-1zM238,461h2v1h-2zM244,461h1v2h-1zM234,462h1v2h-1zM244,462h1v1h-1zM238,463h1v2h-1zM241,463h1v2h-1zM245,464h1v2h-1zM246,464h1v1h-1zM249,464h1v2h-1z" fill="#d3d3d3"/>
<path d="M264,456h1v2h-1zM268,456h1v1h-1zM267,457h1v2h-1zM263,458h1v1h-1zM266,458h1v1h-1zM267,458h1v1h-1zM268,458h1v1h-1zM269,458h1v1h-1zM263,459h1v2h-1zM266,459h1v1h-1zM267,459h1v1h-1zM268,459h1v2h-1zM265,460h1v1h-1zM266,460h1v1h-1zM269,460h1v1h-1zM270,460h1v1h-1zM272,460h1v1h-1zM265,461h1v2h-1zM269,461h1v1h-1zM271,461h1v1h-1zM272,461h1v1h-1zM265,464h1v1h-1zM266,464h1v1h-1zM269,464h1v1h-1zM271,464h1v1h-1zM266,465h1v1h-1zM268,465h1v1h-1zM269,465h1v2h-1zM272,465h2v1h-2z" fill="#fffd00"/>
<path d="M271,459h2v1h-2zM285,460h2v1h-2zM284,462h1v1h-1zM272,463h2v1h-2zM275,463h1v1h-1zM290,465h2v1h-2zM276,468h1v1h-1zM286,468h1v1h-1zM273,470h1v1h-1z" fill="#ffa100"/>
<path d="M263,457h1v1h-1zM265,457h1v1h-1zM260,458h1v1h-1zM264,458h1v1h-1zM265,459h1v2h-1zM267,461h2v1h-2zM264,463h2v1h-2zM263,464h1v2h-1zM267,465h1v2h-1z" fill="#8c0000"/>
</g>
<rect x="129.5" y="162.3" width="710.8" height="698.2" fill="none" stroke="#222" stroke-width="1"/>
<path d="M185.5,860.5v16.8M279.125,860.5v16.8M372.75,860.5v16.8M466.375,860.5v16.8M560,860.5v16.8M653.625,860.5v16.8M747.25,860.5v16.8M129.5,832.875h-17M129.5,739.25h-17M129.5,645.625h-17M129.5,552h-17M129.5,458.375h-17M129.5,364.75h-17M129.5,271.125h-17M129.5,177.5h-17" stroke="#111" stroke-width="1" fill="none"/>
<text x="185.8" y="910.3" font-size="22.9" text-anchor="middle">95°W</text>
<text x="279.425" y="910.3" font-size="22.9" text-anchor="middle">90°W</text>
<text x="373.05" y="910.3" font-size="22.9" text-anchor="middle">85°W</text>
<text x="466.675" y="910.3" font-size="22.9" text-anchor="middle">80°W</text>
<text x="560.3" y="910.3" font-size="22.9" text-anchor="middle">75°W</text>
<text x="653.925" y="910.3" font-size="22.9" text-anchor="middle">70°W</text>
<text x="747.55" y="910.3" font-size="22.9" text-anchor="middle">65°W</text>
<text x="99" y="840.875" font-size="22.9" text-anchor="end">10°N</text>
<text x="99" y="747.25" font-size="22.9" text-anchor="end">15°N</text>
<text x="99" y="653.625" font-size="22.9" text-anchor="end">20°N</text>
<text x="99" y="560" font-size="22.9" text-anchor="end">25°N</text>
<text x="99" y="466.375" font-size="22.9" text-anchor="end">30°N</text>
<text x="99" y="372.75" font-size="22.9" text-anchor="end">35°N</text>
<text x="99" y="279.125" font-size="22.9" text-anchor="end">40°N</text>
<text x="99" y="185.5" font-size="22.9" text-anchor="end">45°N</text>
<text x="484.5" y="944.7" font-size="22.9" text-anchor="middle">Longitude</text>
<text transform="translate(41.7,511) rotate(-90)" font-size="22.9" text-anchor="middle">Latitude</text>
<text x="163.5" y="133.8" font-size="25.7">2021080419</text>
<text x="656" y="128.4" font-size="25.7">Elevation (m)</text>
<g shape-rendering="crispEdges">
<rect x="878.5" y="822.40" width="42.5" height="31.10" fill="#0000aa" stroke="#000" stroke-width="0.6"/>
<rect x="878.5" y="791.30" width="42.5" height="31.10" fill="#0000d8" stroke="#000" stroke-width="0.6"/>
<rect x="878.5" y="760.20" width="42.5" height="31.10" fill="#0007ff" stroke="#000" stroke-width="0.6"/>
<rect x="878.5" y="729.10" width="42.5" height="31.10" fill="#0035ff" stroke="#000" stroke-width="0.6"/>
<rect x="878.5" y="698.00" width="42.5" height="31.10" fill="#0063ff" stroke="#000" stroke-width="0.6"/>
<rect x="878.5" y="666.90" width="42.5" height="31.10" fill="#0091ff" stroke="#000" stroke-width="0.6"/>
<rect x="878.5" y="635.80" width="42.5" height="31.10" fill="#00bfff" stroke="#000" stroke-width="0.6"/>
<rect x="878.5" y="604.70" width="42.5" height="31.10" fill="#00edff" stroke="#000" stroke-width="0.6"/>
<rect x="878.5" y="573.60" width="42.5" height="31.10" fill="#1cffe3" stroke="#000" stroke-width="0.6"/>
<rect x="878.5" y="542.50" width="42.5" height="31.10" fill="#4affb5" stroke="#000" stroke-width="0.6"/>
<rect x="878.5" y="511.40" width="42.5" height="31.10" fill="#7cff83" stroke="#000" stroke-width="0.6"/>
<rect x="878.5" y="480.30" width="42.5" height="31.10" fill="#a9ff56" stroke="#000" stroke-width="0.6"/>
<rect x="878.5" y="449.20" width="42.5" height="31.10" fill="#daff25" stroke="#000" stroke-width="0.6"/>
<rect x="878.5" y="418.10" width="42.5" height="31.10" fill="#fffd00" stroke="#000" stroke-width="0.6"/>
<rect x="878.5" y="387.00" width="42.5" height="31.10" fill="#ffcf00" stroke="#000" stroke-width="0.6"/>
<rect x="878.5" y="355.90" width="42.5" height="31.10" fill="#ffa100" stroke="#000" stroke-width="0.6"/>
<rect x="878.5" y="324.80" width="42.5" height="31.10" fill="#ff7300" stroke="#000" stroke-width="0.6"/>
<rect x="878.5" y="293.70" width="42.5" height="31.10" fill="#ff4500" stroke="#000" stroke-width="0.6"/>
<rect x="878.5" y="262.60" width="42.5" height="31.10" fill="#ff1700" stroke="#000" stroke-width="0.6"/>
<rect x="878.5" y="231.50" width="42.5" height="31.10" fill="#e80000" stroke="#000" stroke-width="0.6"/>
<rect x="878.5" y="200.40" width="42.5" height="31.10" fill="#ba0000" stroke="#000" stroke-width="0.6"/>
<rect x="878.5" y="169.30" width="42.5" height="31.10" fill="#8c0000" stroke="#000" stroke-width="0.6"/>
</g>
<text x="960" y="211.6" font-size="32" text-anchor="middle">2</text>
<text x="960" y="273.8" font-size="32" text-anchor="middle">1.6</text>
<text x="960" y="336.0" font-size="32" text-anchor="middle">1.2</text>
<text x="960" y="398.2" font-size="32" text-anchor="middle">0.8</text>
<text x="960" y="460.4" font-size="32" text-anchor="middle">0.4</text>
<text x="960" y="522.6" font-size="32" text-anchor="middle">0</text>
<text x="960" y="584.8" font-size="32" text-anchor="middle">-0.4</text>
<text x="960" y="647.0" font-size="32" text-anchor="middle">-0.8</text>
<text x="960" y="709.2" font-size="32" text-anchor="middle">-1.2</text>
<text x="960" y="771.4" font-size="32" text-anchor="middle">-1.6</text>
<text x="960" y="833.6" font-size="32" text-anchor="middle">-2</text>
</svg></body></html>
